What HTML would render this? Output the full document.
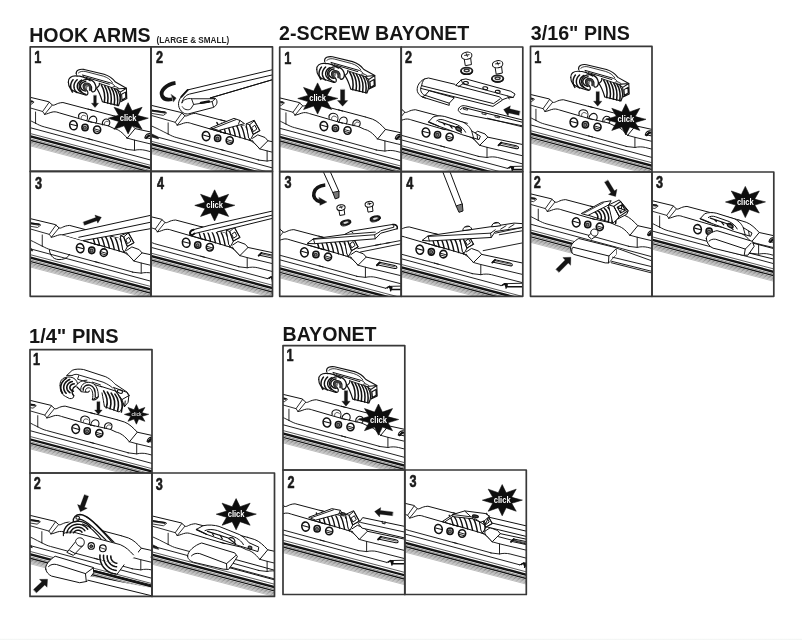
<!DOCTYPE html>
<html><head><meta charset="utf-8"><title>Wiper blade installation</title>
<style>
html,body{margin:0;padding:0;background:#fff;}
body{width:802px;height:640px;overflow:hidden;position:relative;font-family:"Liberation Sans",sans-serif;}
svg{position:absolute;left:0;top:0;display:block;filter:blur(0.55px)}
.ttl{font-family:"Liberation Sans",sans-serif;font-weight:bold;font-size:19.4px;fill:#161616}
.sub{font-family:"Liberation Sans",sans-serif;font-weight:bold;font-size:8.4px;fill:#222}
.num{font-family:"Liberation Sans",sans-serif;font-weight:bold;font-size:16.2px;fill:#1a1a1a;stroke:#1a1a1a;stroke-width:0.6px}
.clk{font-family:"Liberation Sans",sans-serif;font-weight:bold}
.foot{position:absolute;left:0;top:638px;width:802px;height:2px;background:linear-gradient(#fff 0,#fbfcfb 45%,#f4f6f5 70%,#f2f4f3 100%)}
</style></head><body>
<svg width="802" height="640" viewBox="0 0 802 640" stroke-linecap="round" stroke-linejoin="round">
<defs>
<clipPath id="cH1"><rect x="30.20" y="46.80" width="120.80" height="124.60"/></clipPath>
<clipPath id="cH2"><rect x="151.00" y="46.80" width="121.50" height="124.60"/></clipPath>
<clipPath id="cH3"><rect x="30.20" y="171.40" width="120.80" height="124.90"/></clipPath>
<clipPath id="cH4"><rect x="151.00" y="171.40" width="121.50" height="124.90"/></clipPath>
<clipPath id="cS1"><rect x="279.70" y="47.00" width="121.50" height="124.60"/></clipPath>
<clipPath id="cS2"><rect x="401.20" y="47.00" width="121.60" height="124.60"/></clipPath>
<clipPath id="cS3"><rect x="279.70" y="171.60" width="121.50" height="124.70"/></clipPath>
<clipPath id="cS4"><rect x="401.20" y="171.60" width="121.60" height="124.70"/></clipPath>
<clipPath id="cP1"><rect x="530.50" y="46.40" width="121.50" height="125.60"/></clipPath>
<clipPath id="cP2"><rect x="530.50" y="172.00" width="121.50" height="124.30"/></clipPath>
<clipPath id="cP3"><rect x="652.00" y="172.00" width="121.80" height="124.30"/></clipPath>
<clipPath id="cQ1"><rect x="30.00" y="349.60" width="122.00" height="123.40"/></clipPath>
<clipPath id="cQ2"><rect x="30.00" y="473.00" width="122.00" height="123.40"/></clipPath>
<clipPath id="cQ3"><rect x="152.00" y="473.00" width="122.50" height="123.40"/></clipPath>
<clipPath id="cB1"><rect x="283.00" y="345.60" width="121.80" height="124.40"/></clipPath>
<clipPath id="cB2"><rect x="283.00" y="470.00" width="121.80" height="124.50"/></clipPath>
<clipPath id="cB3"><rect x="404.80" y="470.00" width="121.50" height="124.50"/></clipPath>
</defs>
<g clip-path="url(#cH1)"><g transform="translate(0.00 0.00)"><path d="M 15.00 93.68 L 48.71 101.72 L 52.37 104.97 C 54.40 106.19 56.43 102.77 62.93 102.53 L 92.18 110.25" fill="none" stroke="#111" stroke-width="1.0" /><path d="M 88.00 109.03 L 114.81 116.10" fill="none" stroke="#111" stroke-width="1.0" /><path d="M 15.00 103.59 L 42.62 111.47 L 44.65 114.31 M 42.62 111.47 L 49.28 102.12 M 44.65 114.31 L 52.21 105.13" fill="none" stroke="#111" stroke-width="0.89" /><path d="M 15.00 98.71 L 32.47 101.31 L 34.09 102.12 L 30.84 104.56 L 15.00 101.96 M 15.00 99.69 L 32.06 102.29" fill="none" stroke="#111" stroke-width="0.83" /><path d="M 15.00 98.87 L 32.47 101.39" fill="none" stroke="#111" stroke-width="1.42" /><path d="M 44.65 114.31 C 47.50 114.15 49.93 112.36 53.18 111.87 C 56.03 111.55 57.65 112.36 59.28 112.85 L 92.18 122.43" fill="none" stroke="#111" stroke-width="1.0" /><path d="M 88.00 121.21 L 108.31 125.84 L 114.00 128.52 C 118.06 129.34 122.52 132.18 127.16 138.27" fill="none" stroke="#111" stroke-width="1.0" /><path d="M 35.55 112.03 L 35.55 123.24 M 35.55 123.24 C 32.87 122.03 29.62 120.16 26.78 118.78 L 15.00 113.33" fill="none" stroke="#111" stroke-width="0.89" /><path d="M 15.00 121.21 L 24.75 125.84 L 25.97 128.12 L 15.00 124.87 Z" fill="#333" stroke="#111" stroke-width="0.71" /><path d="M 35.55 123.22 C 38.56 124.84 41.00 126.06 44.25 126.87 L 92.18 139.87" fill="none" stroke="#111" stroke-width="0.94" /><path d="M 88.00 138.65 L 126.18 149.21" fill="none" stroke="#111" stroke-width="0.94" /><path d="M 15.00 123.62 L 154.81 161.15" fill="none" stroke="#111" stroke-width="0.94" /><path d="M 127.20 138.09 L 134.51 140.12 L 184.06 151.90" fill="none" stroke="#111" stroke-width="0.94" /><path d="M 134.51 140.12 L 134.51 150.28" fill="none" stroke="#111" stroke-width="0.94" /><path d="M 125.57 149.22 L 134.51 150.28 C 137.76 149.46 141.82 149.46 145.07 150.28 L 184.06 160.27" fill="none" stroke="#111" stroke-width="0.94" /><path d="M 145.88 138.09 L 148.72 135.25 L 163.75 138.50 C 167.00 139.31 166.60 141.91 163.75 141.42 L 147.10 137.85" fill="none" stroke="#111" stroke-width="1.06" /><path d="M 146.04 138.17 L 148.81 135.41" fill="none" stroke="#111" stroke-width="1.89" /><path d="M 149.13 136.47 L 164.16 139.80" fill="none" stroke="#111" stroke-width="0.71" /><path d="M 154.82 161.16 L 158.47 159.29 L 184.06 158.64" fill="none" stroke="#111" stroke-width="0.94" /><path d="M 156.44 160.75 C 157.66 159.13 159.69 159.13 160.91 160.35 L 159.69 163.60 M 159.69 162.38 L 184.06 162.38 M 158.47 159.29 L 159.69 162.38" fill="none" stroke="#111" stroke-width="1.53" /><path d="M15.00 129.50 L186.00 174.64" stroke="#141414" stroke-width="0.7" fill="none"/><path d="M15.00 132.40 L186.00 177.54" stroke="#141414" stroke-width="2.4" fill="none"/><path d="M15.00 134.80 L186.00 179.94" stroke="#333" stroke-width="0.6" fill="none"/><path d="M15.00 136.30 L186.00 181.44" stroke="#141414" stroke-width="1.4" fill="none"/><path d="M15.00 138.00 L186.00 183.14" stroke="#333" stroke-width="0.6" fill="none"/><path d="M15.00 139.30 L186.00 184.44" stroke="#444" stroke-width="0.55" fill="none"/><path d="M15.00 140.60 L186.00 185.74" stroke="#555" stroke-width="0.5" fill="none"/><path d="M15.00 141.80 L186.00 186.94" stroke="#666" stroke-width="0.45" fill="none"/></g><g transform="translate(0.00 0.00)"><ellipse cx="73.49" cy="125.28" rx="3.74" ry="4.55" fill="none" stroke="#111" stroke-width="1.59" transform="rotate(-12 73.49 125.28)"/><path d="M 70.65 124.22 L 76.74 125.84" fill="none" stroke="#111" stroke-width="1.06" /><ellipse cx="85.03" cy="127.47" rx="3.09" ry="3.25" fill="#ddd" stroke="#111" stroke-width="1.59"/><ellipse cx="84.86" cy="127.71" rx="1.46" ry="1.46" fill="#888" stroke="#333" stroke-width="1.18"/><ellipse cx="97.10" cy="129.74" rx="3.57" ry="3.74" fill="none" stroke="#111" stroke-width="1.59"/><path d="M 94.09 128.77 L 100.19 130.56 M 94.50 130.72 L 99.37 132.02" fill="none" stroke="#111" stroke-width="0.94" /></g><g transform="translate(0.00 0.00)"><path d="M 114.81 116.10 L 122.12 118.37 C 126.99 120.16 131.05 124.22 135.12 128.61 L 169.23 136.08" fill="none" stroke="#111" stroke-width="1.0" /><path d="M 127.16 138.27 L 135.12 128.61" fill="none" stroke="#111" stroke-width="1.0" /><path d="M 144.86 137.87 C 145.27 134.62 148.11 132.99 150.96 133.81 M 146.90 138.27 C 147.30 136.24 148.93 135.27 150.96 135.59" fill="none" stroke="#111" stroke-width="1.18" /></g><g transform="translate(0.00 0.00)"><path d="M 78.77 117.56 C 77.55 113.50 81.61 111.47 85.27 113.09 C 87.71 114.31 88.11 117.56 86.90 120.40" fill="none" stroke="#111" stroke-width="1.06" /><path d="M 81.21 118.37 C 80.80 115.12 84.05 114.31 86.08 116.34" fill="none" stroke="#111" stroke-width="0.71" /><path d="M 88.41 121.62 C 88.81 117.15 92.87 114.71 95.72 117.15 C 97.34 118.78 96.94 121.62 95.72 123.08" fill="none" stroke="#111" stroke-width="1.06" /><path d="M 102.62 124.87 C 101.40 120.81 105.06 117.96 108.31 119.59 C 110.75 121.21 109.93 124.46 108.31 125.84" fill="none" stroke="#111" stroke-width="1.06" /><path d="M 104.25 124.71 C 103.84 122.03 106.28 120.40 108.31 121.62" fill="none" stroke="#111" stroke-width="0.71" /></g><g transform="translate(0.00 0.00)"><path d="M 68.36 82.07 C 67.93 77.71 71.85 75.09 76.22 73.34 C 76.22 69.85 79.71 68.81 84.07 69.42 L 104.14 74.22 C 109.38 75.96 112.87 78.58 115.48 82.07 L 126.39 88.18 L 126.83 98.65 L 120.72 101.70 L 118.54 105.63 L 102.39 101.70 L 100.65 90.80 L 92.80 88.18 L 87.56 94.72 L 76.22 92.10 C 71.85 90.80 68.36 87.31 68.36 82.07 Z" fill="#fff" stroke="none" stroke-width="0.0" /><path d="M 76.22 73.78 C 75.78 70.03 79.71 68.81 84.07 69.42 L 104.14 74.22 C 109.38 75.96 112.87 78.58 115.48 82.07 L 126.39 88.18" fill="none" stroke="#111" stroke-width="1.12" /><path d="M 78.40 72.91 C 80.14 71.16 83.20 70.99 85.82 71.60 L 103.27 76.14 C 107.63 77.53 110.25 79.45 112.43 82.51" fill="none" stroke="#111" stroke-width="0.83" /><path d="M 82.76 75.09 L 111.12 83.12 C 112.87 83.82 114.17 84.86 114.61 86.00 M 85.82 77.27 L 109.38 84.25" fill="none" stroke="#111" stroke-width="1.0" /><path d="M 76.22 73.78 L 77.09 76.40 M 82.76 75.09 L 84.51 77.71" fill="none" stroke="#111" stroke-width="0.83" /><path d="M 68.36 82.07 C 67.93 78.14 71.42 75.79 75.78 75.96 C 81.45 75.96 86.69 78.14 90.18 80.76" fill="none" stroke="#111" stroke-width="1.18" /><path d="M 68.36 82.07 C 68.36 87.31 71.85 90.80 76.22 92.10 L 85.38 94.98 C 88.00 95.60 88.87 92.54 86.86 90.62" fill="none" stroke="#111" stroke-width="1.18" /><path d="M 72.49 92.07 L 71.90 91.10 L 71.41 90.09 L 71.04 89.04 L 70.79 87.99 L 70.65 86.90 L 70.64 85.82 L 70.75 84.75 L 70.98 83.68 L 71.33 82.64 L 71.79 81.62 L 72.36 80.64 L 73.05 79.70" fill="none" stroke="#111" stroke-width="1.47" /><path d="M 76.89 92.56 L 76.00 91.62 L 75.25 90.60 L 74.67 89.53 L 74.25 88.40 L 74.01 87.25 L 73.95 86.08 L 74.06 84.92 L 74.36 83.78 L 74.82 82.66 L 75.46 81.61 L 76.24 80.61 L 77.18 79.70" fill="none" stroke="#111" stroke-width="1.47" /><path d="M 81.21 92.17 L 80.04 91.42 L 79.04 90.52 L 78.25 89.50 L 77.68 88.40 L 77.35 87.25 L 77.26 86.07 L 77.43 84.89 L 77.84 83.75 L 78.49 82.68 L 79.34 81.70 L 80.40 80.85 L 81.61 80.14" fill="none" stroke="#111" stroke-width="1.47" /><path d="M 85.45 90.95 L 84.08 90.63 L 82.84 90.06 L 81.80 89.29 L 81.02 88.34 L 80.55 87.29 L 80.40 86.17 L 80.60 85.06 L 81.12 84.02 L 81.94 83.10 L 83.01 82.36 L 84.27 81.83 L 85.67 81.54" fill="none" stroke="#111" stroke-width="1.47" /><path d="M 86.86 90.62 C 82.76 89.92 81.89 84.69 85.38 83.38 C 89.31 82.24 92.36 85.56 91.49 89.92 C 91.23 91.67 92.80 92.54 94.54 91.23 C 97.60 88.18 95.41 80.76 89.31 79.45 C 82.76 78.58 78.40 82.51 79.27 87.31 C 79.71 90.80 82.76 93.41 85.82 94.46" fill="none" stroke="#111" stroke-width="1.3" /><path d="M 85.82 89.75 C 83.37 88.18 83.90 84.51 86.51 84.25 C 89.48 84.25 90.61 86.87 90.00 89.75" fill="none" stroke="#3a3a3a" stroke-width="2.36" /><path d="M 86.51 88.18 C 85.82 87.31 86.16 86.26 87.21 86.43" fill="none" stroke="#777" stroke-width="1.65" /><path d="M 96.46 88.18 C 98.90 86.43 99.78 84.86 99.34 83.38 M 96.46 88.18 C 98.47 90.80 100.65 96.03 102.39 101.70 L 118.54 105.63 C 120.72 101.27 120.28 95.16 117.66 90.36" fill="none" stroke="#111" stroke-width="1.18" /><path d="M 99.34 83.38 L 116.36 89.05" fill="none" stroke="#111" stroke-width="0.94" /><path d="M 101.35 84.86 C 104.31 89.92 105.19 96.90 104.31 102.31" fill="none" stroke="#111" stroke-width="1.53" /><path d="M 104.66 85.82 C 107.63 90.71 108.50 97.43 107.63 103.10" fill="none" stroke="#111" stroke-width="1.53" /><path d="M 107.98 86.78 C 110.95 91.49 111.82 97.95 110.95 103.88" fill="none" stroke="#111" stroke-width="1.53" /><path d="M 111.29 87.74 C 114.26 92.28 115.13 98.47 114.26 104.67" fill="none" stroke="#111" stroke-width="1.53" /><path d="M 114.44 88.70 C 117.40 93.06 118.28 99.00 117.40 105.46" fill="none" stroke="#111" stroke-width="1.53" /><path d="M 116.36 89.05 L 126.39 88.18 L 126.83 98.65 L 120.72 101.70 L 120.28 92.10 Z M 120.28 92.10 L 126.39 88.18 M 121.59 94.29 L 125.52 92.10 L 125.78 97.78 L 122.03 99.96 Z" fill="none" stroke="#111" stroke-width="1.06" /><path d="M 112.87 86.87 C 114.17 86.00 116.36 86.43 118.54 88.18" fill="none" stroke="#111" stroke-width="0.83" /></g><polygon points="93.65,95.60 93.65,103.20 91.40,103.20 95.00,107.60 98.60,103.20 96.35,103.20 96.35,95.60" fill="#151515" stroke="#151515" stroke-width="0.3"/><polygon points="147.91,118.30 137.60,121.40 142.11,129.33 132.04,125.78 128.10,133.90 124.16,125.78 114.09,129.33 118.60,121.40 108.29,118.30 118.60,115.20 114.09,107.27 124.16,110.82 128.10,102.70 132.04,110.82 142.11,107.27 137.60,115.20" fill="#0e0e0e" stroke="#0e0e0e" stroke-width="0.6"/><text x="128.10" y="121.20" text-anchor="middle" class="clk" fill="#fff" font-size="9.5" textLength="16.8" lengthAdjust="spacingAndGlyphs">click</text></g>
<g clip-path="url(#cS1)"><g transform="translate(250.40 0.80)"><path d="M 15.00 93.68 L 48.71 101.72 L 52.37 104.97 C 54.40 106.19 56.43 102.77 62.93 102.53 L 92.18 110.25" fill="none" stroke="#111" stroke-width="1.0" /><path d="M 88.00 109.03 L 114.81 116.10" fill="none" stroke="#111" stroke-width="1.0" /><path d="M 15.00 103.59 L 42.62 111.47 L 44.65 114.31 M 42.62 111.47 L 49.28 102.12 M 44.65 114.31 L 52.21 105.13" fill="none" stroke="#111" stroke-width="0.89" /><path d="M 15.00 98.71 L 32.47 101.31 L 34.09 102.12 L 30.84 104.56 L 15.00 101.96 M 15.00 99.69 L 32.06 102.29" fill="none" stroke="#111" stroke-width="0.83" /><path d="M 15.00 98.87 L 32.47 101.39" fill="none" stroke="#111" stroke-width="1.42" /><path d="M 44.65 114.31 C 47.50 114.15 49.93 112.36 53.18 111.87 C 56.03 111.55 57.65 112.36 59.28 112.85 L 92.18 122.43" fill="none" stroke="#111" stroke-width="1.0" /><path d="M 88.00 121.21 L 108.31 125.84 L 114.00 128.52 C 118.06 129.34 122.52 132.18 127.16 138.27" fill="none" stroke="#111" stroke-width="1.0" /><path d="M 35.55 112.03 L 35.55 123.24 M 35.55 123.24 C 32.87 122.03 29.62 120.16 26.78 118.78 L 15.00 113.33" fill="none" stroke="#111" stroke-width="0.89" /><path d="M 15.00 121.21 L 24.75 125.84 L 25.97 128.12 L 15.00 124.87 Z" fill="#333" stroke="#111" stroke-width="0.71" /><path d="M 35.55 123.22 C 38.56 124.84 41.00 126.06 44.25 126.87 L 92.18 139.87" fill="none" stroke="#111" stroke-width="0.94" /><path d="M 88.00 138.65 L 126.18 149.21" fill="none" stroke="#111" stroke-width="0.94" /><path d="M 15.00 123.62 L 154.81 161.15" fill="none" stroke="#111" stroke-width="0.94" /><path d="M 127.20 138.09 L 134.51 140.12 L 184.06 151.90" fill="none" stroke="#111" stroke-width="0.94" /><path d="M 134.51 140.12 L 134.51 150.28" fill="none" stroke="#111" stroke-width="0.94" /><path d="M 125.57 149.22 L 134.51 150.28 C 137.76 149.46 141.82 149.46 145.07 150.28 L 184.06 160.27" fill="none" stroke="#111" stroke-width="0.94" /><path d="M 145.88 138.09 L 148.72 135.25 L 163.75 138.50 C 167.00 139.31 166.60 141.91 163.75 141.42 L 147.10 137.85" fill="none" stroke="#111" stroke-width="1.06" /><path d="M 146.04 138.17 L 148.81 135.41" fill="none" stroke="#111" stroke-width="1.89" /><path d="M 149.13 136.47 L 164.16 139.80" fill="none" stroke="#111" stroke-width="0.71" /><path d="M 154.82 161.16 L 158.47 159.29 L 184.06 158.64" fill="none" stroke="#111" stroke-width="0.94" /><path d="M 156.44 160.75 C 157.66 159.13 159.69 159.13 160.91 160.35 L 159.69 163.60 M 159.69 162.38 L 184.06 162.38 M 158.47 159.29 L 159.69 162.38" fill="none" stroke="#111" stroke-width="1.53" /><path d="M15.00 129.50 L186.00 174.64" stroke="#141414" stroke-width="0.7" fill="none"/><path d="M15.00 132.40 L186.00 177.54" stroke="#141414" stroke-width="2.4" fill="none"/><path d="M15.00 134.80 L186.00 179.94" stroke="#333" stroke-width="0.6" fill="none"/><path d="M15.00 136.30 L186.00 181.44" stroke="#141414" stroke-width="1.4" fill="none"/><path d="M15.00 138.00 L186.00 183.14" stroke="#333" stroke-width="0.6" fill="none"/><path d="M15.00 139.30 L186.00 184.44" stroke="#444" stroke-width="0.55" fill="none"/><path d="M15.00 140.60 L186.00 185.74" stroke="#555" stroke-width="0.5" fill="none"/><path d="M15.00 141.80 L186.00 186.94" stroke="#666" stroke-width="0.45" fill="none"/></g><g transform="translate(250.40 0.80)"><ellipse cx="73.49" cy="125.28" rx="3.74" ry="4.55" fill="none" stroke="#111" stroke-width="1.59" transform="rotate(-12 73.49 125.28)"/><path d="M 70.65 124.22 L 76.74 125.84" fill="none" stroke="#111" stroke-width="1.06" /><ellipse cx="85.03" cy="127.47" rx="3.09" ry="3.25" fill="#ddd" stroke="#111" stroke-width="1.59"/><ellipse cx="84.86" cy="127.71" rx="1.46" ry="1.46" fill="#888" stroke="#333" stroke-width="1.18"/><ellipse cx="97.10" cy="129.74" rx="3.57" ry="3.74" fill="none" stroke="#111" stroke-width="1.59"/><path d="M 94.09 128.77 L 100.19 130.56 M 94.50 130.72 L 99.37 132.02" fill="none" stroke="#111" stroke-width="0.94" /></g><g transform="translate(250.40 0.80)"><path d="M 114.81 116.10 L 122.12 118.37 C 126.99 120.16 131.05 124.22 135.12 128.61 L 169.23 136.08" fill="none" stroke="#111" stroke-width="1.0" /><path d="M 127.16 138.27 L 135.12 128.61" fill="none" stroke="#111" stroke-width="1.0" /><path d="M 144.86 137.87 C 145.27 134.62 148.11 132.99 150.96 133.81 M 146.90 138.27 C 147.30 136.24 148.93 135.27 150.96 135.59" fill="none" stroke="#111" stroke-width="1.18" /></g><g transform="translate(250.40 0.80)"><path d="M 78.77 117.56 C 77.55 113.50 81.61 111.47 85.27 113.09 C 87.71 114.31 88.11 117.56 86.90 120.40" fill="none" stroke="#111" stroke-width="1.06" /><path d="M 81.21 118.37 C 80.80 115.12 84.05 114.31 86.08 116.34" fill="none" stroke="#111" stroke-width="0.71" /><path d="M 88.41 121.62 C 88.81 117.15 92.87 114.71 95.72 117.15 C 97.34 118.78 96.94 121.62 95.72 123.08" fill="none" stroke="#111" stroke-width="1.06" /><path d="M 102.62 124.87 C 101.40 120.81 105.06 117.96 108.31 119.59 C 110.75 121.21 109.93 124.46 108.31 125.84" fill="none" stroke="#111" stroke-width="1.06" /><path d="M 104.25 124.71 C 103.84 122.03 106.28 120.40 108.31 121.62" fill="none" stroke="#111" stroke-width="0.71" /></g><g transform="translate(248.40 -12.60)"><path d="M 68.36 82.07 C 67.93 77.71 71.85 75.09 76.22 73.34 C 76.22 69.85 79.71 68.81 84.07 69.42 L 104.14 74.22 C 109.38 75.96 112.87 78.58 115.48 82.07 L 126.39 88.18 L 126.83 98.65 L 120.72 101.70 L 118.54 105.63 L 102.39 101.70 L 100.65 90.80 L 92.80 88.18 L 87.56 94.72 L 76.22 92.10 C 71.85 90.80 68.36 87.31 68.36 82.07 Z" fill="#fff" stroke="none" stroke-width="0.0" /><path d="M 76.22 73.78 C 75.78 70.03 79.71 68.81 84.07 69.42 L 104.14 74.22 C 109.38 75.96 112.87 78.58 115.48 82.07 L 126.39 88.18" fill="none" stroke="#111" stroke-width="1.12" /><path d="M 78.40 72.91 C 80.14 71.16 83.20 70.99 85.82 71.60 L 103.27 76.14 C 107.63 77.53 110.25 79.45 112.43 82.51" fill="none" stroke="#111" stroke-width="0.83" /><path d="M 82.76 75.09 L 111.12 83.12 C 112.87 83.82 114.17 84.86 114.61 86.00 M 85.82 77.27 L 109.38 84.25" fill="none" stroke="#111" stroke-width="1.0" /><path d="M 76.22 73.78 L 77.09 76.40 M 82.76 75.09 L 84.51 77.71" fill="none" stroke="#111" stroke-width="0.83" /><path d="M 68.36 82.07 C 67.93 78.14 71.42 75.79 75.78 75.96 C 81.45 75.96 86.69 78.14 90.18 80.76" fill="none" stroke="#111" stroke-width="1.18" /><path d="M 68.36 82.07 C 68.36 87.31 71.85 90.80 76.22 92.10 L 85.38 94.98 C 88.00 95.60 88.87 92.54 86.86 90.62" fill="none" stroke="#111" stroke-width="1.18" /><path d="M 72.49 92.07 L 71.90 91.10 L 71.41 90.09 L 71.04 89.04 L 70.79 87.99 L 70.65 86.90 L 70.64 85.82 L 70.75 84.75 L 70.98 83.68 L 71.33 82.64 L 71.79 81.62 L 72.36 80.64 L 73.05 79.70" fill="none" stroke="#111" stroke-width="1.47" /><path d="M 76.89 92.56 L 76.00 91.62 L 75.25 90.60 L 74.67 89.53 L 74.25 88.40 L 74.01 87.25 L 73.95 86.08 L 74.06 84.92 L 74.36 83.78 L 74.82 82.66 L 75.46 81.61 L 76.24 80.61 L 77.18 79.70" fill="none" stroke="#111" stroke-width="1.47" /><path d="M 81.21 92.17 L 80.04 91.42 L 79.04 90.52 L 78.25 89.50 L 77.68 88.40 L 77.35 87.25 L 77.26 86.07 L 77.43 84.89 L 77.84 83.75 L 78.49 82.68 L 79.34 81.70 L 80.40 80.85 L 81.61 80.14" fill="none" stroke="#111" stroke-width="1.47" /><path d="M 85.45 90.95 L 84.08 90.63 L 82.84 90.06 L 81.80 89.29 L 81.02 88.34 L 80.55 87.29 L 80.40 86.17 L 80.60 85.06 L 81.12 84.02 L 81.94 83.10 L 83.01 82.36 L 84.27 81.83 L 85.67 81.54" fill="none" stroke="#111" stroke-width="1.47" /><path d="M 86.86 90.62 C 82.76 89.92 81.89 84.69 85.38 83.38 C 89.31 82.24 92.36 85.56 91.49 89.92 C 91.23 91.67 92.80 92.54 94.54 91.23 C 97.60 88.18 95.41 80.76 89.31 79.45 C 82.76 78.58 78.40 82.51 79.27 87.31 C 79.71 90.80 82.76 93.41 85.82 94.46" fill="none" stroke="#111" stroke-width="1.3" /><path d="M 85.82 89.75 C 83.37 88.18 83.90 84.51 86.51 84.25 C 89.48 84.25 90.61 86.87 90.00 89.75" fill="none" stroke="#3a3a3a" stroke-width="2.36" /><path d="M 86.51 88.18 C 85.82 87.31 86.16 86.26 87.21 86.43" fill="none" stroke="#777" stroke-width="1.65" /><path d="M 96.46 88.18 C 98.90 86.43 99.78 84.86 99.34 83.38 M 96.46 88.18 C 98.47 90.80 100.65 96.03 102.39 101.70 L 118.54 105.63 C 120.72 101.27 120.28 95.16 117.66 90.36" fill="none" stroke="#111" stroke-width="1.18" /><path d="M 99.34 83.38 L 116.36 89.05" fill="none" stroke="#111" stroke-width="0.94" /><path d="M 101.35 84.86 C 104.31 89.92 105.19 96.90 104.31 102.31" fill="none" stroke="#111" stroke-width="1.53" /><path d="M 104.66 85.82 C 107.63 90.71 108.50 97.43 107.63 103.10" fill="none" stroke="#111" stroke-width="1.53" /><path d="M 107.98 86.78 C 110.95 91.49 111.82 97.95 110.95 103.88" fill="none" stroke="#111" stroke-width="1.53" /><path d="M 111.29 87.74 C 114.26 92.28 115.13 98.47 114.26 104.67" fill="none" stroke="#111" stroke-width="1.53" /><path d="M 114.44 88.70 C 117.40 93.06 118.28 99.00 117.40 105.46" fill="none" stroke="#111" stroke-width="1.53" /><path d="M 116.36 89.05 L 126.39 88.18 L 126.83 98.65 L 120.72 101.70 L 120.28 92.10 Z M 120.28 92.10 L 126.39 88.18 M 121.59 94.29 L 125.52 92.10 L 125.78 97.78 L 122.03 99.96 Z" fill="none" stroke="#111" stroke-width="1.06" /><path d="M 112.87 86.87 C 114.17 86.00 116.36 86.43 118.54 88.18" fill="none" stroke="#111" stroke-width="0.83" /></g><polygon points="340.50,89.70 340.50,100.60 337.40,100.60 342.60,106.20 347.80,100.60 344.70,100.60 344.70,89.70" fill="#151515" stroke="#151515" stroke-width="0.3"/><polygon points="337.41,98.50 327.10,101.60 331.61,109.53 321.54,105.98 317.60,114.10 313.66,105.98 303.59,109.53 308.10,101.60 297.79,98.50 308.10,95.40 303.59,87.47 313.66,91.02 317.60,82.90 321.54,91.02 331.61,87.47 327.10,95.40" fill="#0e0e0e" stroke="#0e0e0e" stroke-width="0.6"/><text x="317.60" y="101.40" text-anchor="middle" class="clk" fill="#fff" font-size="9.5" textLength="16.8" lengthAdjust="spacingAndGlyphs">click</text></g>
<g clip-path="url(#cP1)"><g transform="translate(500.40 -2.80)"><path d="M 15.00 93.68 L 48.71 101.72 L 52.37 104.97 C 54.40 106.19 56.43 102.77 62.93 102.53 L 92.18 110.25" fill="none" stroke="#111" stroke-width="1.0" /><path d="M 88.00 109.03 L 114.81 116.10" fill="none" stroke="#111" stroke-width="1.0" /><path d="M 15.00 103.59 L 42.62 111.47 L 44.65 114.31 M 42.62 111.47 L 49.28 102.12 M 44.65 114.31 L 52.21 105.13" fill="none" stroke="#111" stroke-width="0.89" /><path d="M 15.00 98.71 L 32.47 101.31 L 34.09 102.12 L 30.84 104.56 L 15.00 101.96 M 15.00 99.69 L 32.06 102.29" fill="none" stroke="#111" stroke-width="0.83" /><path d="M 15.00 98.87 L 32.47 101.39" fill="none" stroke="#111" stroke-width="1.42" /><path d="M 44.65 114.31 C 47.50 114.15 49.93 112.36 53.18 111.87 C 56.03 111.55 57.65 112.36 59.28 112.85 L 92.18 122.43" fill="none" stroke="#111" stroke-width="1.0" /><path d="M 88.00 121.21 L 108.31 125.84 L 114.00 128.52 C 118.06 129.34 122.52 132.18 127.16 138.27" fill="none" stroke="#111" stroke-width="1.0" /><path d="M 35.55 112.03 L 35.55 123.24 M 35.55 123.24 C 32.87 122.03 29.62 120.16 26.78 118.78 L 15.00 113.33" fill="none" stroke="#111" stroke-width="0.89" /><path d="M 15.00 121.21 L 24.75 125.84 L 25.97 128.12 L 15.00 124.87 Z" fill="#333" stroke="#111" stroke-width="0.71" /><path d="M 35.55 123.22 C 38.56 124.84 41.00 126.06 44.25 126.87 L 92.18 139.87" fill="none" stroke="#111" stroke-width="0.94" /><path d="M 88.00 138.65 L 126.18 149.21" fill="none" stroke="#111" stroke-width="0.94" /><path d="M 15.00 123.62 L 154.81 161.15" fill="none" stroke="#111" stroke-width="0.94" /><path d="M 127.20 138.09 L 134.51 140.12 L 184.06 151.90" fill="none" stroke="#111" stroke-width="0.94" /><path d="M 134.51 140.12 L 134.51 150.28" fill="none" stroke="#111" stroke-width="0.94" /><path d="M 125.57 149.22 L 134.51 150.28 C 137.76 149.46 141.82 149.46 145.07 150.28 L 184.06 160.27" fill="none" stroke="#111" stroke-width="0.94" /><path d="M 145.88 138.09 L 148.72 135.25 L 163.75 138.50 C 167.00 139.31 166.60 141.91 163.75 141.42 L 147.10 137.85" fill="none" stroke="#111" stroke-width="1.06" /><path d="M 146.04 138.17 L 148.81 135.41" fill="none" stroke="#111" stroke-width="1.89" /><path d="M 149.13 136.47 L 164.16 139.80" fill="none" stroke="#111" stroke-width="0.71" /><path d="M 154.82 161.16 L 158.47 159.29 L 184.06 158.64" fill="none" stroke="#111" stroke-width="0.94" /><path d="M 156.44 160.75 C 157.66 159.13 159.69 159.13 160.91 160.35 L 159.69 163.60 M 159.69 162.38 L 184.06 162.38 M 158.47 159.29 L 159.69 162.38" fill="none" stroke="#111" stroke-width="1.53" /><path d="M15.00 129.50 L186.00 174.64" stroke="#141414" stroke-width="0.7" fill="none"/><path d="M15.00 132.40 L186.00 177.54" stroke="#141414" stroke-width="2.4" fill="none"/><path d="M15.00 134.80 L186.00 179.94" stroke="#333" stroke-width="0.6" fill="none"/><path d="M15.00 136.30 L186.00 181.44" stroke="#141414" stroke-width="1.4" fill="none"/><path d="M15.00 138.00 L186.00 183.14" stroke="#333" stroke-width="0.6" fill="none"/><path d="M15.00 139.30 L186.00 184.44" stroke="#444" stroke-width="0.55" fill="none"/><path d="M15.00 140.60 L186.00 185.74" stroke="#555" stroke-width="0.5" fill="none"/><path d="M15.00 141.80 L186.00 186.94" stroke="#666" stroke-width="0.45" fill="none"/></g><g transform="translate(500.40 -2.80)"><ellipse cx="73.49" cy="125.28" rx="3.74" ry="4.55" fill="none" stroke="#111" stroke-width="1.59" transform="rotate(-12 73.49 125.28)"/><path d="M 70.65 124.22 L 76.74 125.84" fill="none" stroke="#111" stroke-width="1.06" /><ellipse cx="85.03" cy="127.47" rx="3.09" ry="3.25" fill="#ddd" stroke="#111" stroke-width="1.59"/><ellipse cx="84.86" cy="127.71" rx="1.46" ry="1.46" fill="#888" stroke="#333" stroke-width="1.18"/><ellipse cx="97.10" cy="129.74" rx="3.57" ry="3.74" fill="none" stroke="#111" stroke-width="1.59"/><path d="M 94.09 128.77 L 100.19 130.56 M 94.50 130.72 L 99.37 132.02" fill="none" stroke="#111" stroke-width="0.94" /></g><g transform="translate(500.40 -2.80)"><path d="M 114.81 116.10 L 122.12 118.37 C 126.99 120.16 131.05 124.22 135.12 128.61 L 169.23 136.08" fill="none" stroke="#111" stroke-width="1.0" /><path d="M 127.16 138.27 L 135.12 128.61" fill="none" stroke="#111" stroke-width="1.0" /><path d="M 144.86 137.87 C 145.27 134.62 148.11 132.99 150.96 133.81 M 146.90 138.27 C 147.30 136.24 148.93 135.27 150.96 135.59" fill="none" stroke="#111" stroke-width="1.18" /></g><g transform="translate(500.40 -2.80)"><path d="M 78.77 117.56 C 77.55 113.50 81.61 111.47 85.27 113.09 C 87.71 114.31 88.11 117.56 86.90 120.40" fill="none" stroke="#111" stroke-width="1.06" /><path d="M 81.21 118.37 C 80.80 115.12 84.05 114.31 86.08 116.34" fill="none" stroke="#111" stroke-width="0.71" /><path d="M 88.41 121.62 C 88.81 117.15 92.87 114.71 95.72 117.15 C 97.34 118.78 96.94 121.62 95.72 123.08" fill="none" stroke="#111" stroke-width="1.06" /><path d="M 102.62 124.87 C 101.40 120.81 105.06 117.96 108.31 119.59 C 110.75 121.21 109.93 124.46 108.31 125.84" fill="none" stroke="#111" stroke-width="1.06" /><path d="M 104.25 124.71 C 103.84 122.03 106.28 120.40 108.31 121.62" fill="none" stroke="#111" stroke-width="0.71" /></g><g transform="translate(502.40 -4.70)"><path d="M 68.36 82.07 C 67.93 77.71 71.85 75.09 76.22 73.34 C 76.22 69.85 79.71 68.81 84.07 69.42 L 104.14 74.22 C 109.38 75.96 112.87 78.58 115.48 82.07 L 126.39 88.18 L 126.83 98.65 L 120.72 101.70 L 118.54 105.63 L 102.39 101.70 L 100.65 90.80 L 92.80 88.18 L 87.56 94.72 L 76.22 92.10 C 71.85 90.80 68.36 87.31 68.36 82.07 Z" fill="#fff" stroke="none" stroke-width="0.0" /><path d="M 76.22 73.78 C 75.78 70.03 79.71 68.81 84.07 69.42 L 104.14 74.22 C 109.38 75.96 112.87 78.58 115.48 82.07 L 126.39 88.18" fill="none" stroke="#111" stroke-width="1.12" /><path d="M 78.40 72.91 C 80.14 71.16 83.20 70.99 85.82 71.60 L 103.27 76.14 C 107.63 77.53 110.25 79.45 112.43 82.51" fill="none" stroke="#111" stroke-width="0.83" /><path d="M 82.76 75.09 L 111.12 83.12 C 112.87 83.82 114.17 84.86 114.61 86.00 M 85.82 77.27 L 109.38 84.25" fill="none" stroke="#111" stroke-width="1.0" /><path d="M 76.22 73.78 L 77.09 76.40 M 82.76 75.09 L 84.51 77.71" fill="none" stroke="#111" stroke-width="0.83" /><path d="M 68.36 82.07 C 67.93 78.14 71.42 75.79 75.78 75.96 C 81.45 75.96 86.69 78.14 90.18 80.76" fill="none" stroke="#111" stroke-width="1.18" /><path d="M 68.36 82.07 C 68.36 87.31 71.85 90.80 76.22 92.10 L 85.38 94.98 C 88.00 95.60 88.87 92.54 86.86 90.62" fill="none" stroke="#111" stroke-width="1.18" /><path d="M 72.49 92.07 L 71.90 91.10 L 71.41 90.09 L 71.04 89.04 L 70.79 87.99 L 70.65 86.90 L 70.64 85.82 L 70.75 84.75 L 70.98 83.68 L 71.33 82.64 L 71.79 81.62 L 72.36 80.64 L 73.05 79.70" fill="none" stroke="#111" stroke-width="1.47" /><path d="M 76.89 92.56 L 76.00 91.62 L 75.25 90.60 L 74.67 89.53 L 74.25 88.40 L 74.01 87.25 L 73.95 86.08 L 74.06 84.92 L 74.36 83.78 L 74.82 82.66 L 75.46 81.61 L 76.24 80.61 L 77.18 79.70" fill="none" stroke="#111" stroke-width="1.47" /><path d="M 81.21 92.17 L 80.04 91.42 L 79.04 90.52 L 78.25 89.50 L 77.68 88.40 L 77.35 87.25 L 77.26 86.07 L 77.43 84.89 L 77.84 83.75 L 78.49 82.68 L 79.34 81.70 L 80.40 80.85 L 81.61 80.14" fill="none" stroke="#111" stroke-width="1.47" /><path d="M 85.45 90.95 L 84.08 90.63 L 82.84 90.06 L 81.80 89.29 L 81.02 88.34 L 80.55 87.29 L 80.40 86.17 L 80.60 85.06 L 81.12 84.02 L 81.94 83.10 L 83.01 82.36 L 84.27 81.83 L 85.67 81.54" fill="none" stroke="#111" stroke-width="1.47" /><path d="M 86.86 90.62 C 82.76 89.92 81.89 84.69 85.38 83.38 C 89.31 82.24 92.36 85.56 91.49 89.92 C 91.23 91.67 92.80 92.54 94.54 91.23 C 97.60 88.18 95.41 80.76 89.31 79.45 C 82.76 78.58 78.40 82.51 79.27 87.31 C 79.71 90.80 82.76 93.41 85.82 94.46" fill="none" stroke="#111" stroke-width="1.3" /><path d="M 85.82 89.75 C 83.37 88.18 83.90 84.51 86.51 84.25 C 89.48 84.25 90.61 86.87 90.00 89.75" fill="none" stroke="#3a3a3a" stroke-width="2.36" /><path d="M 86.51 88.18 C 85.82 87.31 86.16 86.26 87.21 86.43" fill="none" stroke="#777" stroke-width="1.65" /><path d="M 96.46 88.18 C 98.90 86.43 99.78 84.86 99.34 83.38 M 96.46 88.18 C 98.47 90.80 100.65 96.03 102.39 101.70 L 118.54 105.63 C 120.72 101.27 120.28 95.16 117.66 90.36" fill="none" stroke="#111" stroke-width="1.18" /><path d="M 99.34 83.38 L 116.36 89.05" fill="none" stroke="#111" stroke-width="0.94" /><path d="M 101.35 84.86 C 104.31 89.92 105.19 96.90 104.31 102.31" fill="none" stroke="#111" stroke-width="1.53" /><path d="M 104.66 85.82 C 107.63 90.71 108.50 97.43 107.63 103.10" fill="none" stroke="#111" stroke-width="1.53" /><path d="M 107.98 86.78 C 110.95 91.49 111.82 97.95 110.95 103.88" fill="none" stroke="#111" stroke-width="1.53" /><path d="M 111.29 87.74 C 114.26 92.28 115.13 98.47 114.26 104.67" fill="none" stroke="#111" stroke-width="1.53" /><path d="M 114.44 88.70 C 117.40 93.06 118.28 99.00 117.40 105.46" fill="none" stroke="#111" stroke-width="1.53" /><path d="M 116.36 89.05 L 126.39 88.18 L 126.83 98.65 L 120.72 101.70 L 120.28 92.10 Z M 120.28 92.10 L 126.39 88.18 M 121.59 94.29 L 125.52 92.10 L 125.78 97.78 L 122.03 99.96 Z" fill="none" stroke="#111" stroke-width="1.06" /><path d="M 112.87 86.87 C 114.17 86.00 116.36 86.43 118.54 88.18" fill="none" stroke="#111" stroke-width="0.83" /></g><polygon points="596.10,91.80 596.10,101.20 593.50,101.20 597.70,106.20 601.90,101.20 599.30,101.20 599.30,91.80" fill="#151515" stroke="#151515" stroke-width="0.3"/><polygon points="645.61,119.40 635.30,122.50 639.81,130.43 629.74,126.88 625.80,135.00 621.86,126.88 611.79,130.43 616.30,122.50 605.99,119.40 616.30,116.30 611.79,108.37 621.86,111.92 625.80,103.80 629.74,111.92 639.81,108.37 635.30,116.30" fill="#0e0e0e" stroke="#0e0e0e" stroke-width="0.6"/><text x="625.80" y="122.30" text-anchor="middle" class="clk" fill="#fff" font-size="9.5" textLength="16.8" lengthAdjust="spacingAndGlyphs">click</text></g>
<g clip-path="url(#cB1)"><g transform="translate(253.40 297.20)"><path d="M 15.00 93.68 L 48.71 101.72 L 52.37 104.97 C 54.40 106.19 56.43 102.77 62.93 102.53 L 92.18 110.25" fill="none" stroke="#111" stroke-width="1.0" /><path d="M 88.00 109.03 L 114.81 116.10" fill="none" stroke="#111" stroke-width="1.0" /><path d="M 15.00 103.59 L 42.62 111.47 L 44.65 114.31 M 42.62 111.47 L 49.28 102.12 M 44.65 114.31 L 52.21 105.13" fill="none" stroke="#111" stroke-width="0.89" /><path d="M 15.00 98.71 L 32.47 101.31 L 34.09 102.12 L 30.84 104.56 L 15.00 101.96 M 15.00 99.69 L 32.06 102.29" fill="none" stroke="#111" stroke-width="0.83" /><path d="M 15.00 98.87 L 32.47 101.39" fill="none" stroke="#111" stroke-width="1.42" /><path d="M 44.65 114.31 C 47.50 114.15 49.93 112.36 53.18 111.87 C 56.03 111.55 57.65 112.36 59.28 112.85 L 92.18 122.43" fill="none" stroke="#111" stroke-width="1.0" /><path d="M 88.00 121.21 L 108.31 125.84 L 114.00 128.52 C 118.06 129.34 122.52 132.18 127.16 138.27" fill="none" stroke="#111" stroke-width="1.0" /><path d="M 35.55 112.03 L 35.55 123.24 M 35.55 123.24 C 32.87 122.03 29.62 120.16 26.78 118.78 L 15.00 113.33" fill="none" stroke="#111" stroke-width="0.89" /><path d="M 15.00 121.21 L 24.75 125.84 L 25.97 128.12 L 15.00 124.87 Z" fill="#333" stroke="#111" stroke-width="0.71" /><path d="M 35.55 123.22 C 38.56 124.84 41.00 126.06 44.25 126.87 L 92.18 139.87" fill="none" stroke="#111" stroke-width="0.94" /><path d="M 88.00 138.65 L 126.18 149.21" fill="none" stroke="#111" stroke-width="0.94" /><path d="M 15.00 123.62 L 154.81 161.15" fill="none" stroke="#111" stroke-width="0.94" /><path d="M 127.20 138.09 L 134.51 140.12 L 184.06 151.90" fill="none" stroke="#111" stroke-width="0.94" /><path d="M 134.51 140.12 L 134.51 150.28" fill="none" stroke="#111" stroke-width="0.94" /><path d="M 125.57 149.22 L 134.51 150.28 C 137.76 149.46 141.82 149.46 145.07 150.28 L 184.06 160.27" fill="none" stroke="#111" stroke-width="0.94" /><path d="M 145.88 138.09 L 148.72 135.25 L 163.75 138.50 C 167.00 139.31 166.60 141.91 163.75 141.42 L 147.10 137.85" fill="none" stroke="#111" stroke-width="1.06" /><path d="M 146.04 138.17 L 148.81 135.41" fill="none" stroke="#111" stroke-width="1.89" /><path d="M 149.13 136.47 L 164.16 139.80" fill="none" stroke="#111" stroke-width="0.71" /><path d="M 154.82 161.16 L 158.47 159.29 L 184.06 158.64" fill="none" stroke="#111" stroke-width="0.94" /><path d="M 156.44 160.75 C 157.66 159.13 159.69 159.13 160.91 160.35 L 159.69 163.60 M 159.69 162.38 L 184.06 162.38 M 158.47 159.29 L 159.69 162.38" fill="none" stroke="#111" stroke-width="1.53" /><path d="M15.00 129.50 L186.00 174.64" stroke="#141414" stroke-width="0.7" fill="none"/><path d="M15.00 132.40 L186.00 177.54" stroke="#141414" stroke-width="2.4" fill="none"/><path d="M15.00 134.80 L186.00 179.94" stroke="#333" stroke-width="0.6" fill="none"/><path d="M15.00 136.30 L186.00 181.44" stroke="#141414" stroke-width="1.4" fill="none"/><path d="M15.00 138.00 L186.00 183.14" stroke="#333" stroke-width="0.6" fill="none"/><path d="M15.00 139.30 L186.00 184.44" stroke="#444" stroke-width="0.55" fill="none"/><path d="M15.00 140.60 L186.00 185.74" stroke="#555" stroke-width="0.5" fill="none"/><path d="M15.00 141.80 L186.00 186.94" stroke="#666" stroke-width="0.45" fill="none"/></g><g transform="translate(253.40 297.20)"><ellipse cx="73.49" cy="125.28" rx="3.74" ry="4.55" fill="none" stroke="#111" stroke-width="1.59" transform="rotate(-12 73.49 125.28)"/><path d="M 70.65 124.22 L 76.74 125.84" fill="none" stroke="#111" stroke-width="1.06" /><ellipse cx="85.03" cy="127.47" rx="3.09" ry="3.25" fill="#ddd" stroke="#111" stroke-width="1.59"/><ellipse cx="84.86" cy="127.71" rx="1.46" ry="1.46" fill="#888" stroke="#333" stroke-width="1.18"/><ellipse cx="97.10" cy="129.74" rx="3.57" ry="3.74" fill="none" stroke="#111" stroke-width="1.59"/><path d="M 94.09 128.77 L 100.19 130.56 M 94.50 130.72 L 99.37 132.02" fill="none" stroke="#111" stroke-width="0.94" /></g><g transform="translate(253.40 297.20)"><path d="M 114.81 116.10 L 122.12 118.37 C 126.99 120.16 131.05 124.22 135.12 128.61 L 169.23 136.08" fill="none" stroke="#111" stroke-width="1.0" /><path d="M 127.16 138.27 L 135.12 128.61" fill="none" stroke="#111" stroke-width="1.0" /><path d="M 144.86 137.87 C 145.27 134.62 148.11 132.99 150.96 133.81 M 146.90 138.27 C 147.30 136.24 148.93 135.27 150.96 135.59" fill="none" stroke="#111" stroke-width="1.18" /></g><g transform="translate(253.40 297.20)"><path d="M 78.77 117.56 C 77.55 113.50 81.61 111.47 85.27 113.09 C 87.71 114.31 88.11 117.56 86.90 120.40" fill="none" stroke="#111" stroke-width="1.06" /><path d="M 81.21 118.37 C 80.80 115.12 84.05 114.31 86.08 116.34" fill="none" stroke="#111" stroke-width="0.71" /><path d="M 88.41 121.62 C 88.81 117.15 92.87 114.71 95.72 117.15 C 97.34 118.78 96.94 121.62 95.72 123.08" fill="none" stroke="#111" stroke-width="1.06" /><path d="M 102.62 124.87 C 101.40 120.81 105.06 117.96 108.31 119.59 C 110.75 121.21 109.93 124.46 108.31 125.84" fill="none" stroke="#111" stroke-width="1.06" /><path d="M 104.25 124.71 C 103.84 122.03 106.28 120.40 108.31 121.62" fill="none" stroke="#111" stroke-width="0.71" /></g><g transform="translate(250.40 297.40)"><path d="M 68.36 82.07 C 67.93 77.71 71.85 75.09 76.22 73.34 C 76.22 69.85 79.71 68.81 84.07 69.42 L 104.14 74.22 C 109.38 75.96 112.87 78.58 115.48 82.07 L 126.39 88.18 L 126.83 98.65 L 120.72 101.70 L 118.54 105.63 L 102.39 101.70 L 100.65 90.80 L 92.80 88.18 L 87.56 94.72 L 76.22 92.10 C 71.85 90.80 68.36 87.31 68.36 82.07 Z" fill="#fff" stroke="none" stroke-width="0.0" /><path d="M 76.22 73.78 C 75.78 70.03 79.71 68.81 84.07 69.42 L 104.14 74.22 C 109.38 75.96 112.87 78.58 115.48 82.07 L 126.39 88.18" fill="none" stroke="#111" stroke-width="1.12" /><path d="M 78.40 72.91 C 80.14 71.16 83.20 70.99 85.82 71.60 L 103.27 76.14 C 107.63 77.53 110.25 79.45 112.43 82.51" fill="none" stroke="#111" stroke-width="0.83" /><path d="M 82.76 75.09 L 111.12 83.12 C 112.87 83.82 114.17 84.86 114.61 86.00 M 85.82 77.27 L 109.38 84.25" fill="none" stroke="#111" stroke-width="1.0" /><path d="M 76.22 73.78 L 77.09 76.40 M 82.76 75.09 L 84.51 77.71" fill="none" stroke="#111" stroke-width="0.83" /><path d="M 68.36 82.07 C 67.93 78.14 71.42 75.79 75.78 75.96 C 81.45 75.96 86.69 78.14 90.18 80.76" fill="none" stroke="#111" stroke-width="1.18" /><path d="M 68.36 82.07 C 68.36 87.31 71.85 90.80 76.22 92.10 L 85.38 94.98 C 88.00 95.60 88.87 92.54 86.86 90.62" fill="none" stroke="#111" stroke-width="1.18" /><path d="M 72.49 92.07 L 71.90 91.10 L 71.41 90.09 L 71.04 89.04 L 70.79 87.99 L 70.65 86.90 L 70.64 85.82 L 70.75 84.75 L 70.98 83.68 L 71.33 82.64 L 71.79 81.62 L 72.36 80.64 L 73.05 79.70" fill="none" stroke="#111" stroke-width="1.47" /><path d="M 76.89 92.56 L 76.00 91.62 L 75.25 90.60 L 74.67 89.53 L 74.25 88.40 L 74.01 87.25 L 73.95 86.08 L 74.06 84.92 L 74.36 83.78 L 74.82 82.66 L 75.46 81.61 L 76.24 80.61 L 77.18 79.70" fill="none" stroke="#111" stroke-width="1.47" /><path d="M 81.21 92.17 L 80.04 91.42 L 79.04 90.52 L 78.25 89.50 L 77.68 88.40 L 77.35 87.25 L 77.26 86.07 L 77.43 84.89 L 77.84 83.75 L 78.49 82.68 L 79.34 81.70 L 80.40 80.85 L 81.61 80.14" fill="none" stroke="#111" stroke-width="1.47" /><path d="M 85.45 90.95 L 84.08 90.63 L 82.84 90.06 L 81.80 89.29 L 81.02 88.34 L 80.55 87.29 L 80.40 86.17 L 80.60 85.06 L 81.12 84.02 L 81.94 83.10 L 83.01 82.36 L 84.27 81.83 L 85.67 81.54" fill="none" stroke="#111" stroke-width="1.47" /><path d="M 86.86 90.62 C 82.76 89.92 81.89 84.69 85.38 83.38 C 89.31 82.24 92.36 85.56 91.49 89.92 C 91.23 91.67 92.80 92.54 94.54 91.23 C 97.60 88.18 95.41 80.76 89.31 79.45 C 82.76 78.58 78.40 82.51 79.27 87.31 C 79.71 90.80 82.76 93.41 85.82 94.46" fill="none" stroke="#111" stroke-width="1.3" /><path d="M 85.82 89.75 C 83.37 88.18 83.90 84.51 86.51 84.25 C 89.48 84.25 90.61 86.87 90.00 89.75" fill="none" stroke="#3a3a3a" stroke-width="2.36" /><path d="M 86.51 88.18 C 85.82 87.31 86.16 86.26 87.21 86.43" fill="none" stroke="#777" stroke-width="1.65" /><path d="M 96.46 88.18 C 98.90 86.43 99.78 84.86 99.34 83.38 M 96.46 88.18 C 98.47 90.80 100.65 96.03 102.39 101.70 L 118.54 105.63 C 120.72 101.27 120.28 95.16 117.66 90.36" fill="none" stroke="#111" stroke-width="1.18" /><path d="M 99.34 83.38 L 116.36 89.05" fill="none" stroke="#111" stroke-width="0.94" /><path d="M 101.35 84.86 C 104.31 89.92 105.19 96.90 104.31 102.31" fill="none" stroke="#111" stroke-width="1.53" /><path d="M 104.66 85.82 C 107.63 90.71 108.50 97.43 107.63 103.10" fill="none" stroke="#111" stroke-width="1.53" /><path d="M 107.98 86.78 C 110.95 91.49 111.82 97.95 110.95 103.88" fill="none" stroke="#111" stroke-width="1.53" /><path d="M 111.29 87.74 C 114.26 92.28 115.13 98.47 114.26 104.67" fill="none" stroke="#111" stroke-width="1.53" /><path d="M 114.44 88.70 C 117.40 93.06 118.28 99.00 117.40 105.46" fill="none" stroke="#111" stroke-width="1.53" /><path d="M 116.36 89.05 L 126.39 88.18 L 126.83 98.65 L 120.72 101.70 L 120.28 92.10 Z M 120.28 92.10 L 126.39 88.18 M 121.59 94.29 L 125.52 92.10 L 125.78 97.78 L 122.03 99.96 Z" fill="none" stroke="#111" stroke-width="1.06" /><path d="M 112.87 86.87 C 114.17 86.00 116.36 86.43 118.54 88.18" fill="none" stroke="#111" stroke-width="0.83" /></g><polygon points="344.40,390.80 344.40,401.20 341.80,401.20 346.00,406.20 350.20,401.20 347.60,401.20 347.60,390.80" fill="#151515" stroke="#151515" stroke-width="0.3"/><polygon points="398.31,419.60 388.00,422.70 392.51,430.63 382.44,427.08 378.50,435.20 374.56,427.08 364.49,430.63 369.00,422.70 358.69,419.60 369.00,416.50 364.49,408.57 374.56,412.12 378.50,404.00 382.44,412.12 392.51,408.57 388.00,416.50" fill="#0e0e0e" stroke="#0e0e0e" stroke-width="0.6"/><text x="378.50" y="422.50" text-anchor="middle" class="clk" fill="#fff" font-size="9.5" textLength="16.8" lengthAdjust="spacingAndGlyphs">click</text></g>
<g clip-path="url(#cS3)"><g transform="translate(230.90 127.10)"><path d="M 15.00 93.68 L 48.71 101.72 L 52.37 104.97 C 54.40 106.19 56.43 102.77 62.93 102.53 L 92.18 110.25" fill="none" stroke="#111" stroke-width="1.0" /><path d="M 88.00 109.03 L 114.81 116.10" fill="none" stroke="#111" stroke-width="1.0" /><path d="M 15.00 103.59 L 42.62 111.47 L 44.65 114.31 M 42.62 111.47 L 49.28 102.12 M 44.65 114.31 L 52.21 105.13" fill="none" stroke="#111" stroke-width="0.89" /><path d="M 15.00 98.71 L 32.47 101.31 L 34.09 102.12 L 30.84 104.56 L 15.00 101.96 M 15.00 99.69 L 32.06 102.29" fill="none" stroke="#111" stroke-width="0.83" /><path d="M 15.00 98.87 L 32.47 101.39" fill="none" stroke="#111" stroke-width="1.42" /><path d="M 44.65 114.31 C 47.50 114.15 49.93 112.36 53.18 111.87 C 56.03 111.55 57.65 112.36 59.28 112.85 L 92.18 122.43" fill="none" stroke="#111" stroke-width="1.0" /><path d="M 88.00 121.21 L 108.31 125.84 L 114.00 128.52 C 118.06 129.34 122.52 132.18 127.16 138.27" fill="none" stroke="#111" stroke-width="1.0" /><path d="M 35.55 112.03 L 35.55 123.24 M 35.55 123.24 C 32.87 122.03 29.62 120.16 26.78 118.78 L 15.00 113.33" fill="none" stroke="#111" stroke-width="0.89" /><path d="M 15.00 121.21 L 24.75 125.84 L 25.97 128.12 L 15.00 124.87 Z" fill="#333" stroke="#111" stroke-width="0.71" /><path d="M 35.55 123.22 C 38.56 124.84 41.00 126.06 44.25 126.87 L 92.18 139.87" fill="none" stroke="#111" stroke-width="0.94" /><path d="M 88.00 138.65 L 126.18 149.21" fill="none" stroke="#111" stroke-width="0.94" /><path d="M 15.00 123.62 L 154.81 161.15" fill="none" stroke="#111" stroke-width="0.94" /><path d="M 127.20 138.09 L 134.51 140.12 L 184.06 151.90" fill="none" stroke="#111" stroke-width="0.94" /><path d="M 134.51 140.12 L 134.51 150.28" fill="none" stroke="#111" stroke-width="0.94" /><path d="M 125.57 149.22 L 134.51 150.28 C 137.76 149.46 141.82 149.46 145.07 150.28 L 184.06 160.27" fill="none" stroke="#111" stroke-width="0.94" /><path d="M 145.88 138.09 L 148.72 135.25 L 163.75 138.50 C 167.00 139.31 166.60 141.91 163.75 141.42 L 147.10 137.85" fill="none" stroke="#111" stroke-width="1.06" /><path d="M 146.04 138.17 L 148.81 135.41" fill="none" stroke="#111" stroke-width="1.89" /><path d="M 149.13 136.47 L 164.16 139.80" fill="none" stroke="#111" stroke-width="0.71" /><path d="M 154.82 161.16 L 158.47 159.29 L 184.06 158.64" fill="none" stroke="#111" stroke-width="0.94" /><path d="M 156.44 160.75 C 157.66 159.13 159.69 159.13 160.91 160.35 L 159.69 163.60 M 159.69 162.38 L 184.06 162.38 M 158.47 159.29 L 159.69 162.38" fill="none" stroke="#111" stroke-width="1.53" /><path d="M15.00 129.50 L186.00 174.64" stroke="#141414" stroke-width="0.7" fill="none"/><path d="M15.00 132.40 L186.00 177.54" stroke="#141414" stroke-width="2.4" fill="none"/><path d="M15.00 134.80 L186.00 179.94" stroke="#333" stroke-width="0.6" fill="none"/><path d="M15.00 136.30 L186.00 181.44" stroke="#141414" stroke-width="1.4" fill="none"/><path d="M15.00 138.00 L186.00 183.14" stroke="#333" stroke-width="0.6" fill="none"/><path d="M15.00 139.30 L186.00 184.44" stroke="#444" stroke-width="0.55" fill="none"/><path d="M15.00 140.60 L186.00 185.74" stroke="#555" stroke-width="0.5" fill="none"/><path d="M15.00 141.80 L186.00 186.94" stroke="#666" stroke-width="0.45" fill="none"/></g><g transform="translate(230.90 127.10)"><ellipse cx="73.49" cy="125.28" rx="3.74" ry="4.55" fill="none" stroke="#111" stroke-width="1.59" transform="rotate(-12 73.49 125.28)"/><path d="M 70.65 124.22 L 76.74 125.84" fill="none" stroke="#111" stroke-width="1.06" /><ellipse cx="85.03" cy="127.47" rx="3.09" ry="3.25" fill="#ddd" stroke="#111" stroke-width="1.59"/><ellipse cx="84.86" cy="127.71" rx="1.46" ry="1.46" fill="#888" stroke="#333" stroke-width="1.18"/><ellipse cx="97.10" cy="129.74" rx="3.57" ry="3.74" fill="none" stroke="#111" stroke-width="1.59"/><path d="M 94.09 128.77 L 100.19 130.56 M 94.50 130.72 L 99.37 132.02" fill="none" stroke="#111" stroke-width="0.94" /></g><g transform="translate(230.90 127.10)"><path d="M 119.07 128.10 L 125.17 124.04 L 132.48 126.72 L 135.32 129.97 L 127.20 138.09 L 121.51 132.00 Z" fill="#fff" stroke="#111" stroke-width="1.0" /><path d="M 135.32 129.97 L 184.06 140.28" fill="none" stroke="#111" stroke-width="1.0" /></g><g transform="translate(118.20 9.60)"><path d="M 191.24 234.37 L 197.74 229.17 L 231.05 233.56 L 232.67 248.18 Z" fill="#fff" stroke="none" stroke-width="0.0" /><path d="M 196.93 229.17 C 198.72 231.61 200.18 235.26 200.83 238.51" fill="none" stroke="#111" stroke-width="1.42" /><path d="M 201.80 229.90 C 203.59 232.34 205.05 236.73 205.70 239.98" fill="none" stroke="#111" stroke-width="1.42" /><path d="M 206.68 230.63 C 208.46 233.07 209.93 238.11 210.58 241.36" fill="none" stroke="#111" stroke-width="1.42" /><path d="M 211.55 231.36 C 213.34 233.80 214.80 239.49 215.45 242.74" fill="none" stroke="#111" stroke-width="1.42" /><path d="M 216.42 232.10 C 218.21 234.53 219.67 240.95 220.32 244.20" fill="none" stroke="#111" stroke-width="1.42" /><path d="M 221.30 232.83 C 223.09 235.26 224.55 242.33 225.20 245.58" fill="none" stroke="#111" stroke-width="1.42" /><path d="M 226.17 233.56 C 227.96 236.00 229.42 243.71 230.07 246.96" fill="none" stroke="#111" stroke-width="1.42" /><path d="M 189.62 235.35 L 232.67 247.77" fill="none" stroke="#111" stroke-width="1.0" /><path d="M 226.58 230.47 L 234.30 226.90 L 240.15 237.46 L 233.48 241.03 L 230.64 246.39 L 229.02 244.93 Z" fill="#fff" stroke="#111" stroke-width="1.0" /><path d="M 229.83 231.45 L 234.30 227.55 L 239.66 237.21 L 233.48 241.03 Z" fill="none" stroke="#111" stroke-width="1.0" /><path d="M 232.02 234.05 L 234.95 231.93 L 236.90 235.83 L 233.89 238.03 Z" fill="none" stroke="#111" stroke-width="1.0" /><path d="M 226.58 230.47 L 229.83 231.45 L 233.48 241.03" fill="none" stroke="#111" stroke-width="1.0" /></g><path d="M 357.80 248.63 L 404.03 239.89 M 360.48 251.99 L 404.03 243.25 M 375.27 245.27 L 380.65 244.19 M 386.02 243.25 L 390.05 242.58" fill="none" stroke="#111" stroke-width="0.94" /><path d="M 307.39 243.25 L 313.44 238.82 L 344.35 234.52 L 351.08 231.16 L 392.74 224.44 L 397.04 225.78 L 397.58 228.60 L 380.91 233.17 L 375.27 238.82 L 314.78 243.66 Z" fill="#fff" stroke="#111" stroke-width="1.0" /><path d="M 313.44 238.82 L 314.78 243.66 M 313.44 239.22 L 374.60 234.78 L 379.30 232.10 M 344.35 234.52 L 375.27 232.10 M 351.08 231.29 L 353.09 232.90 M 374.60 234.78 L 375.27 238.82 M 392.74 224.57 L 394.09 227.12 L 380.65 230.75 L 379.30 232.10" fill="none" stroke="#111" stroke-width="0.94" /><path d="M 392.74 224.44 C 396.10 223.76 398.12 226.45 397.04 228.87" fill="none" stroke="#111" stroke-width="1.3" /><ellipse cx="345.70" cy="222.42" rx="5.11" ry="2.28" fill="#333" stroke="#111" stroke-width="1.18" transform="rotate(-14 345.70 222.42)"/><ellipse cx="345.70" cy="222.42" rx="2.15" ry="0.81" fill="#ddd" stroke="#ddd" stroke-width="0.71" transform="rotate(-14 345.70 222.42)"/><ellipse cx="345.70" cy="223.36" rx="5.11" ry="2.28" fill="none" stroke="#111" stroke-width="0.83" transform="rotate(-14 345.70 223.36)"/><ellipse cx="375.27" cy="218.39" rx="5.11" ry="2.28" fill="#333" stroke="#111" stroke-width="1.18" transform="rotate(-14 375.27 218.39)"/><ellipse cx="375.27" cy="218.39" rx="2.15" ry="0.81" fill="#ddd" stroke="#ddd" stroke-width="0.71" transform="rotate(-14 375.27 218.39)"/><ellipse cx="375.27" cy="219.33" rx="5.11" ry="2.28" fill="none" stroke="#111" stroke-width="0.83" transform="rotate(-14 375.27 219.33)"/><path d="M 339.11 208.71 L 343.95 207.90 L 344.76 214.62 L 340.19 215.43 Z" fill="#fff" stroke="#111" stroke-width="1.0" /><ellipse cx="340.99" cy="207.63" rx="4.17" ry="2.82" fill="#fff" stroke="#111" stroke-width="1.0" transform="rotate(-10 340.99 207.63)"/><path d="M 339.38 207.37 L 342.88 206.83 M 340.73 206.02 L 341.53 208.17" fill="none" stroke="#111" stroke-width="0.94" /><path d="M 367.34 205.35 L 372.18 204.54 L 372.98 211.26 L 368.41 212.07 Z" fill="#fff" stroke="#111" stroke-width="1.0" /><ellipse cx="369.22" cy="204.27" rx="4.17" ry="2.82" fill="#fff" stroke="#111" stroke-width="1.0" transform="rotate(-10 369.22 204.27)"/><path d="M 367.61 204.01 L 371.10 203.47 M 368.95 202.66 L 369.76 204.81" fill="none" stroke="#111" stroke-width="0.94" /><path d="M 323.12 171.34 L 332.93 192.85 L 338.98 191.51 L 330.11 171.34 Z" fill="#fff" stroke="none" stroke-width="0.0" /><path d="M 323.12 171.34 L 332.93 192.85 M 330.11 171.34 L 338.98 191.51" fill="none" stroke="#111" stroke-width="1.0" /><path d="M 332.93 192.85 L 335.22 198.90 L 338.98 197.55 L 338.98 191.51 Z" fill="#777" stroke="#111" stroke-width="1.0" /><path d="M 325.27 185.05 C 312.77 186.13 309.41 198.90 320.16 201.72" fill="none" stroke="#151515" stroke-width="3.54" stroke-linecap="butt"/><path d="M 319.09 197.55 326.88 201.99 320.16 205.22 Z" fill="#151515" stroke="#151515" stroke-width="0.35" /></g>
<g clip-path="url(#cS4)"><g transform="translate(346.30 124.40)"><path d="M 15.00 93.68 L 48.71 101.72 L 52.37 104.97 C 54.40 106.19 56.43 102.77 62.93 102.53 L 92.18 110.25" fill="none" stroke="#111" stroke-width="1.0" /><path d="M 88.00 109.03 L 114.81 116.10" fill="none" stroke="#111" stroke-width="1.0" /><path d="M 15.00 103.59 L 42.62 111.47 L 44.65 114.31 M 42.62 111.47 L 49.28 102.12 M 44.65 114.31 L 52.21 105.13" fill="none" stroke="#111" stroke-width="0.89" /><path d="M 15.00 98.71 L 32.47 101.31 L 34.09 102.12 L 30.84 104.56 L 15.00 101.96 M 15.00 99.69 L 32.06 102.29" fill="none" stroke="#111" stroke-width="0.83" /><path d="M 15.00 98.87 L 32.47 101.39" fill="none" stroke="#111" stroke-width="1.42" /><path d="M 44.65 114.31 C 47.50 114.15 49.93 112.36 53.18 111.87 C 56.03 111.55 57.65 112.36 59.28 112.85 L 92.18 122.43" fill="none" stroke="#111" stroke-width="1.0" /><path d="M 88.00 121.21 L 108.31 125.84 L 114.00 128.52 C 118.06 129.34 122.52 132.18 127.16 138.27" fill="none" stroke="#111" stroke-width="1.0" /><path d="M 35.55 112.03 L 35.55 123.24 M 35.55 123.24 C 32.87 122.03 29.62 120.16 26.78 118.78 L 15.00 113.33" fill="none" stroke="#111" stroke-width="0.89" /><path d="M 15.00 121.21 L 24.75 125.84 L 25.97 128.12 L 15.00 124.87 Z" fill="#333" stroke="#111" stroke-width="0.71" /><path d="M 35.55 123.22 C 38.56 124.84 41.00 126.06 44.25 126.87 L 92.18 139.87" fill="none" stroke="#111" stroke-width="0.94" /><path d="M 88.00 138.65 L 126.18 149.21" fill="none" stroke="#111" stroke-width="0.94" /><path d="M 15.00 123.62 L 154.81 161.15" fill="none" stroke="#111" stroke-width="0.94" /><path d="M 127.20 138.09 L 134.51 140.12 L 184.06 151.90" fill="none" stroke="#111" stroke-width="0.94" /><path d="M 134.51 140.12 L 134.51 150.28" fill="none" stroke="#111" stroke-width="0.94" /><path d="M 125.57 149.22 L 134.51 150.28 C 137.76 149.46 141.82 149.46 145.07 150.28 L 184.06 160.27" fill="none" stroke="#111" stroke-width="0.94" /><path d="M 145.88 138.09 L 148.72 135.25 L 163.75 138.50 C 167.00 139.31 166.60 141.91 163.75 141.42 L 147.10 137.85" fill="none" stroke="#111" stroke-width="1.06" /><path d="M 146.04 138.17 L 148.81 135.41" fill="none" stroke="#111" stroke-width="1.89" /><path d="M 149.13 136.47 L 164.16 139.80" fill="none" stroke="#111" stroke-width="0.71" /><path d="M 154.82 161.16 L 158.47 159.29 L 184.06 158.64" fill="none" stroke="#111" stroke-width="0.94" /><path d="M 156.44 160.75 C 157.66 159.13 159.69 159.13 160.91 160.35 L 159.69 163.60 M 159.69 162.38 L 184.06 162.38 M 158.47 159.29 L 159.69 162.38" fill="none" stroke="#111" stroke-width="1.53" /><path d="M15.00 129.50 L186.00 174.64" stroke="#141414" stroke-width="0.7" fill="none"/><path d="M15.00 132.40 L186.00 177.54" stroke="#141414" stroke-width="2.4" fill="none"/><path d="M15.00 134.80 L186.00 179.94" stroke="#333" stroke-width="0.6" fill="none"/><path d="M15.00 136.30 L186.00 181.44" stroke="#141414" stroke-width="1.4" fill="none"/><path d="M15.00 138.00 L186.00 183.14" stroke="#333" stroke-width="0.6" fill="none"/><path d="M15.00 139.30 L186.00 184.44" stroke="#444" stroke-width="0.55" fill="none"/><path d="M15.00 140.60 L186.00 185.74" stroke="#555" stroke-width="0.5" fill="none"/><path d="M15.00 141.80 L186.00 186.94" stroke="#666" stroke-width="0.45" fill="none"/></g><g transform="translate(346.30 124.40)"><ellipse cx="73.49" cy="125.28" rx="3.74" ry="4.55" fill="none" stroke="#111" stroke-width="1.59" transform="rotate(-12 73.49 125.28)"/><path d="M 70.65 124.22 L 76.74 125.84" fill="none" stroke="#111" stroke-width="1.06" /><ellipse cx="85.03" cy="127.47" rx="3.09" ry="3.25" fill="#ddd" stroke="#111" stroke-width="1.59"/><ellipse cx="84.86" cy="127.71" rx="1.46" ry="1.46" fill="#888" stroke="#333" stroke-width="1.18"/><ellipse cx="97.10" cy="129.74" rx="3.57" ry="3.74" fill="none" stroke="#111" stroke-width="1.59"/><path d="M 94.09 128.77 L 100.19 130.56 M 94.50 130.72 L 99.37 132.02" fill="none" stroke="#111" stroke-width="0.94" /></g><g transform="translate(346.30 124.40)"><path d="M 119.07 128.10 L 125.17 124.04 L 132.48 126.72 L 135.32 129.97 L 127.20 138.09 L 121.51 132.00 Z" fill="#fff" stroke="#111" stroke-width="1.0" /><path d="M 135.32 129.97 L 184.06 140.28" fill="none" stroke="#111" stroke-width="1.0" /></g><g transform="translate(233.60 6.90)"><path d="M 191.24 234.37 L 197.74 229.17 L 231.05 233.56 L 232.67 248.18 Z" fill="#fff" stroke="none" stroke-width="0.0" /><path d="M 196.93 229.17 C 198.72 231.61 200.18 235.26 200.83 238.51" fill="none" stroke="#111" stroke-width="1.42" /><path d="M 201.80 229.90 C 203.59 232.34 205.05 236.73 205.70 239.98" fill="none" stroke="#111" stroke-width="1.42" /><path d="M 206.68 230.63 C 208.46 233.07 209.93 238.11 210.58 241.36" fill="none" stroke="#111" stroke-width="1.42" /><path d="M 211.55 231.36 C 213.34 233.80 214.80 239.49 215.45 242.74" fill="none" stroke="#111" stroke-width="1.42" /><path d="M 216.42 232.10 C 218.21 234.53 219.67 240.95 220.32 244.20" fill="none" stroke="#111" stroke-width="1.42" /><path d="M 221.30 232.83 C 223.09 235.26 224.55 242.33 225.20 245.58" fill="none" stroke="#111" stroke-width="1.42" /><path d="M 226.17 233.56 C 227.96 236.00 229.42 243.71 230.07 246.96" fill="none" stroke="#111" stroke-width="1.42" /><path d="M 189.62 235.35 L 232.67 247.77" fill="none" stroke="#111" stroke-width="1.0" /><path d="M 226.58 230.47 L 234.30 226.90 L 240.15 237.46 L 233.48 241.03 L 230.64 246.39 L 229.02 244.93 Z" fill="#fff" stroke="#111" stroke-width="1.0" /><path d="M 229.83 231.45 L 234.30 227.55 L 239.66 237.21 L 233.48 241.03 Z" fill="none" stroke="#111" stroke-width="1.0" /><path d="M 232.02 234.05 L 234.95 231.93 L 236.90 235.83 L 233.89 238.03 Z" fill="none" stroke="#111" stroke-width="1.0" /><path d="M 226.58 230.47 L 229.83 231.45 L 233.48 241.03" fill="none" stroke="#111" stroke-width="1.0" /></g><path d="M 495.27 233.17 L 524.03 227.12 M 499.30 234.78 L 524.03 230.48 M 483.17 250.65 L 524.03 242.58" fill="none" stroke="#111" stroke-width="0.94" /><path d="M 422.42 240.16 L 428.06 235.86 L 463.01 230.75 L 492.58 226.45 L 514.09 223.09 L 524.03 223.76 L 524.03 227.12 L 495.27 231.56 L 491.24 237.47 L 429.41 240.97 Z" fill="#fff" stroke="#111" stroke-width="1.0" /><path d="M 428.06 236.13 L 429.41 240.97 M 428.33 236.40 L 490.56 233.17 L 495.27 229.81 M 490.56 233.17 L 491.24 237.47 M 500.65 229.14 L 506.02 225.78 M 508.71 227.80 L 514.09 224.44" fill="none" stroke="#111" stroke-width="0.94" /><path d="M 462.74 230.22 C 463.01 225.11 471.08 224.44 471.75 229.14 Z" fill="#fff" stroke="#111" stroke-width="1.0" /><path d="M 465.03 227.12 L 469.06 226.45" fill="none" stroke="#111" stroke-width="0.83" /><path d="M 491.64 226.45 C 491.91 221.48 499.97 220.81 500.65 225.38 Z" fill="#fff" stroke="#111" stroke-width="1.0" /><path d="M 493.92 223.49 L 497.96 222.82" fill="none" stroke="#111" stroke-width="0.83" /><path d="M 442.58 171.34 L 456.29 206.29 L 462.34 204.27 L 449.84 171.34 Z" fill="#fff" stroke="none" stroke-width="0.0" /><path d="M 442.58 171.34 L 456.29 206.29 M 449.84 171.34 L 462.34 204.27" fill="none" stroke="#111" stroke-width="1.0" /><path d="M 456.29 206.29 L 458.98 212.34 L 463.01 210.99 L 462.34 204.27 Z" fill="#777" stroke="#111" stroke-width="1.0" /></g>
<g clip-path="url(#cB2)"><g transform="translate(232.10 401.30)"><path d="M 15.00 93.68 L 48.71 101.72 L 52.37 104.97 C 54.40 106.19 56.43 102.77 62.93 102.53 L 92.18 110.25" fill="none" stroke="#111" stroke-width="1.0" /><path d="M 88.00 109.03 L 114.81 116.10" fill="none" stroke="#111" stroke-width="1.0" /><path d="M 15.00 103.59 L 42.62 111.47 L 44.65 114.31 M 42.62 111.47 L 49.28 102.12 M 44.65 114.31 L 52.21 105.13" fill="none" stroke="#111" stroke-width="0.89" /><path d="M 15.00 98.71 L 32.47 101.31 L 34.09 102.12 L 30.84 104.56 L 15.00 101.96 M 15.00 99.69 L 32.06 102.29" fill="none" stroke="#111" stroke-width="0.83" /><path d="M 15.00 98.87 L 32.47 101.39" fill="none" stroke="#111" stroke-width="1.42" /><path d="M 44.65 114.31 C 47.50 114.15 49.93 112.36 53.18 111.87 C 56.03 111.55 57.65 112.36 59.28 112.85 L 92.18 122.43" fill="none" stroke="#111" stroke-width="1.0" /><path d="M 88.00 121.21 L 108.31 125.84 L 114.00 128.52 C 118.06 129.34 122.52 132.18 127.16 138.27" fill="none" stroke="#111" stroke-width="1.0" /><path d="M 35.55 112.03 L 35.55 123.24 M 35.55 123.24 C 32.87 122.03 29.62 120.16 26.78 118.78 L 15.00 113.33" fill="none" stroke="#111" stroke-width="0.89" /><path d="M 15.00 121.21 L 24.75 125.84 L 25.97 128.12 L 15.00 124.87 Z" fill="#333" stroke="#111" stroke-width="0.71" /><path d="M 35.55 123.22 C 38.56 124.84 41.00 126.06 44.25 126.87 L 92.18 139.87" fill="none" stroke="#111" stroke-width="0.94" /><path d="M 88.00 138.65 L 126.18 149.21" fill="none" stroke="#111" stroke-width="0.94" /><path d="M 15.00 123.62 L 154.81 161.15" fill="none" stroke="#111" stroke-width="0.94" /><path d="M 127.20 138.09 L 134.51 140.12 L 184.06 151.90" fill="none" stroke="#111" stroke-width="0.94" /><path d="M 134.51 140.12 L 134.51 150.28" fill="none" stroke="#111" stroke-width="0.94" /><path d="M 125.57 149.22 L 134.51 150.28 C 137.76 149.46 141.82 149.46 145.07 150.28 L 184.06 160.27" fill="none" stroke="#111" stroke-width="0.94" /><path d="M 145.88 138.09 L 148.72 135.25 L 163.75 138.50 C 167.00 139.31 166.60 141.91 163.75 141.42 L 147.10 137.85" fill="none" stroke="#111" stroke-width="1.06" /><path d="M 146.04 138.17 L 148.81 135.41" fill="none" stroke="#111" stroke-width="1.89" /><path d="M 149.13 136.47 L 164.16 139.80" fill="none" stroke="#111" stroke-width="0.71" /><path d="M 154.82 161.16 L 158.47 159.29 L 184.06 158.64" fill="none" stroke="#111" stroke-width="0.94" /><path d="M 156.44 160.75 C 157.66 159.13 159.69 159.13 160.91 160.35 L 159.69 163.60 M 159.69 162.38 L 184.06 162.38 M 158.47 159.29 L 159.69 162.38" fill="none" stroke="#111" stroke-width="1.53" /><path d="M15.00 129.50 L186.00 174.64" stroke="#141414" stroke-width="0.7" fill="none"/><path d="M15.00 132.40 L186.00 177.54" stroke="#141414" stroke-width="2.4" fill="none"/><path d="M15.00 134.80 L186.00 179.94" stroke="#333" stroke-width="0.6" fill="none"/><path d="M15.00 136.30 L186.00 181.44" stroke="#141414" stroke-width="1.4" fill="none"/><path d="M15.00 138.00 L186.00 183.14" stroke="#333" stroke-width="0.6" fill="none"/><path d="M15.00 139.30 L186.00 184.44" stroke="#444" stroke-width="0.55" fill="none"/><path d="M15.00 140.60 L186.00 185.74" stroke="#555" stroke-width="0.5" fill="none"/><path d="M15.00 141.80 L186.00 186.94" stroke="#666" stroke-width="0.45" fill="none"/></g><g transform="translate(232.10 401.30)"><ellipse cx="73.49" cy="125.28" rx="3.74" ry="4.55" fill="none" stroke="#111" stroke-width="1.59" transform="rotate(-12 73.49 125.28)"/><path d="M 70.65 124.22 L 76.74 125.84" fill="none" stroke="#111" stroke-width="1.06" /><ellipse cx="85.03" cy="127.47" rx="3.09" ry="3.25" fill="#ddd" stroke="#111" stroke-width="1.59"/><ellipse cx="84.86" cy="127.71" rx="1.46" ry="1.46" fill="#888" stroke="#333" stroke-width="1.18"/><ellipse cx="97.10" cy="129.74" rx="3.57" ry="3.74" fill="none" stroke="#111" stroke-width="1.59"/><path d="M 94.09 128.77 L 100.19 130.56 M 94.50 130.72 L 99.37 132.02" fill="none" stroke="#111" stroke-width="0.94" /></g><g transform="translate(232.10 401.30)"><path d="M 119.07 128.10 L 125.17 124.04 L 132.48 126.72 L 135.32 129.97 L 127.20 138.09 L 121.51 132.00 Z" fill="#fff" stroke="#111" stroke-width="1.0" /><path d="M 135.32 129.97 L 184.06 140.28" fill="none" stroke="#111" stroke-width="1.0" /></g><g transform="translate(119.40 283.80)"><path d="M 191.24 234.37 L 197.74 229.17 L 231.05 233.56 L 232.67 248.18 Z" fill="#fff" stroke="none" stroke-width="0.0" /><path d="M 196.93 229.17 C 198.72 231.61 200.18 235.26 200.83 238.51" fill="none" stroke="#111" stroke-width="1.42" /><path d="M 201.80 229.90 C 203.59 232.34 205.05 236.73 205.70 239.98" fill="none" stroke="#111" stroke-width="1.42" /><path d="M 206.68 230.63 C 208.46 233.07 209.93 238.11 210.58 241.36" fill="none" stroke="#111" stroke-width="1.42" /><path d="M 211.55 231.36 C 213.34 233.80 214.80 239.49 215.45 242.74" fill="none" stroke="#111" stroke-width="1.42" /><path d="M 216.42 232.10 C 218.21 234.53 219.67 240.95 220.32 244.20" fill="none" stroke="#111" stroke-width="1.42" /><path d="M 221.30 232.83 C 223.09 235.26 224.55 242.33 225.20 245.58" fill="none" stroke="#111" stroke-width="1.42" /><path d="M 226.17 233.56 C 227.96 236.00 229.42 243.71 230.07 246.96" fill="none" stroke="#111" stroke-width="1.42" /><path d="M 189.62 235.35 L 232.67 247.77" fill="none" stroke="#111" stroke-width="1.0" /><path d="M 226.58 230.47 L 234.30 226.90 L 240.15 237.46 L 233.48 241.03 L 230.64 246.39 L 229.02 244.93 Z" fill="#fff" stroke="#111" stroke-width="1.0" /><path d="M 229.83 231.45 L 234.30 227.55 L 239.66 237.21 L 233.48 241.03 Z" fill="none" stroke="#111" stroke-width="1.0" /><path d="M 232.02 234.05 L 234.95 231.93 L 236.90 235.83 L 233.89 238.03 Z" fill="none" stroke="#111" stroke-width="1.0" /><path d="M 226.58 230.47 L 229.83 231.45 L 233.48 241.03" fill="none" stroke="#111" stroke-width="1.0" /></g><path d="M 309.05 517.19 L 331.81 508.65 L 340.35 510.28 L 341.98 513.12 L 315.96 520.03 Z" fill="#fff" stroke="#111" stroke-width="1.0" /><path d="M 311.49 517.59 L 333.44 509.87 M 340.35 510.28 L 338.93 513.73" fill="none" stroke="#111" stroke-width="0.94" /><ellipse cx="342.99" cy="513.93" rx="2.44" ry="1.22" fill="#555" stroke="#111" stroke-width="1.06" transform="rotate(10 342.99 513.93)"/><path d="M 358.64 523.28 L 362.71 517.59 L 405.39 526.54 L 405.39 538.12 L 362.30 528.16 Z" fill="#fff" stroke="#111" stroke-width="1.0" /><path d="M 360.67 522.47 L 405.39 532.23 M 382.22 521.25 L 382.22 523.28 L 385.07 523.89 L 385.07 521.86" fill="none" stroke="#111" stroke-width="0.94" /><polygon points="392.83,511.91 380.39,510.39 380.73,507.61 374.60,511.60 379.59,516.94 379.93,514.17 392.37,515.69" fill="#151515" stroke="#151515" stroke-width="0.3"/></g>
<g clip-path="url(#cB3)"><g transform="translate(365.00 403.70)"><path d="M 15.00 93.68 L 48.71 101.72 L 52.37 104.97 C 54.40 106.19 56.43 102.77 62.93 102.53 L 92.18 110.25" fill="none" stroke="#111" stroke-width="1.0" /><path d="M 88.00 109.03 L 114.81 116.10" fill="none" stroke="#111" stroke-width="1.0" /><path d="M 15.00 103.59 L 42.62 111.47 L 44.65 114.31 M 42.62 111.47 L 49.28 102.12 M 44.65 114.31 L 52.21 105.13" fill="none" stroke="#111" stroke-width="0.89" /><path d="M 15.00 98.71 L 32.47 101.31 L 34.09 102.12 L 30.84 104.56 L 15.00 101.96 M 15.00 99.69 L 32.06 102.29" fill="none" stroke="#111" stroke-width="0.83" /><path d="M 15.00 98.87 L 32.47 101.39" fill="none" stroke="#111" stroke-width="1.42" /><path d="M 44.65 114.31 C 47.50 114.15 49.93 112.36 53.18 111.87 C 56.03 111.55 57.65 112.36 59.28 112.85 L 92.18 122.43" fill="none" stroke="#111" stroke-width="1.0" /><path d="M 88.00 121.21 L 108.31 125.84 L 114.00 128.52 C 118.06 129.34 122.52 132.18 127.16 138.27" fill="none" stroke="#111" stroke-width="1.0" /><path d="M 35.55 112.03 L 35.55 123.24 M 35.55 123.24 C 32.87 122.03 29.62 120.16 26.78 118.78 L 15.00 113.33" fill="none" stroke="#111" stroke-width="0.89" /><path d="M 15.00 121.21 L 24.75 125.84 L 25.97 128.12 L 15.00 124.87 Z" fill="#333" stroke="#111" stroke-width="0.71" /><path d="M 35.55 123.22 C 38.56 124.84 41.00 126.06 44.25 126.87 L 92.18 139.87" fill="none" stroke="#111" stroke-width="0.94" /><path d="M 88.00 138.65 L 126.18 149.21" fill="none" stroke="#111" stroke-width="0.94" /><path d="M 15.00 123.62 L 154.81 161.15" fill="none" stroke="#111" stroke-width="0.94" /><path d="M 127.20 138.09 L 134.51 140.12 L 184.06 151.90" fill="none" stroke="#111" stroke-width="0.94" /><path d="M 134.51 140.12 L 134.51 150.28" fill="none" stroke="#111" stroke-width="0.94" /><path d="M 125.57 149.22 L 134.51 150.28 C 137.76 149.46 141.82 149.46 145.07 150.28 L 184.06 160.27" fill="none" stroke="#111" stroke-width="0.94" /><path d="M 145.88 138.09 L 148.72 135.25 L 163.75 138.50 C 167.00 139.31 166.60 141.91 163.75 141.42 L 147.10 137.85" fill="none" stroke="#111" stroke-width="1.06" /><path d="M 146.04 138.17 L 148.81 135.41" fill="none" stroke="#111" stroke-width="1.89" /><path d="M 149.13 136.47 L 164.16 139.80" fill="none" stroke="#111" stroke-width="0.71" /><path d="M 154.82 161.16 L 158.47 159.29 L 184.06 158.64" fill="none" stroke="#111" stroke-width="0.94" /><path d="M 156.44 160.75 C 157.66 159.13 159.69 159.13 160.91 160.35 L 159.69 163.60 M 159.69 162.38 L 184.06 162.38 M 158.47 159.29 L 159.69 162.38" fill="none" stroke="#111" stroke-width="1.53" /><path d="M15.00 129.50 L186.00 174.64" stroke="#141414" stroke-width="0.7" fill="none"/><path d="M15.00 132.40 L186.00 177.54" stroke="#141414" stroke-width="2.4" fill="none"/><path d="M15.00 134.80 L186.00 179.94" stroke="#333" stroke-width="0.6" fill="none"/><path d="M15.00 136.30 L186.00 181.44" stroke="#141414" stroke-width="1.4" fill="none"/><path d="M15.00 138.00 L186.00 183.14" stroke="#333" stroke-width="0.6" fill="none"/><path d="M15.00 139.30 L186.00 184.44" stroke="#444" stroke-width="0.55" fill="none"/><path d="M15.00 140.60 L186.00 185.74" stroke="#555" stroke-width="0.5" fill="none"/><path d="M15.00 141.80 L186.00 186.94" stroke="#666" stroke-width="0.45" fill="none"/></g><g transform="translate(365.00 403.70)"><ellipse cx="73.49" cy="125.28" rx="3.74" ry="4.55" fill="none" stroke="#111" stroke-width="1.59" transform="rotate(-12 73.49 125.28)"/><path d="M 70.65 124.22 L 76.74 125.84" fill="none" stroke="#111" stroke-width="1.06" /><ellipse cx="85.03" cy="127.47" rx="3.09" ry="3.25" fill="#ddd" stroke="#111" stroke-width="1.59"/><ellipse cx="84.86" cy="127.71" rx="1.46" ry="1.46" fill="#888" stroke="#333" stroke-width="1.18"/><ellipse cx="97.10" cy="129.74" rx="3.57" ry="3.74" fill="none" stroke="#111" stroke-width="1.59"/><path d="M 94.09 128.77 L 100.19 130.56 M 94.50 130.72 L 99.37 132.02" fill="none" stroke="#111" stroke-width="0.94" /></g><g transform="translate(365.00 403.70)"><path d="M 119.07 128.10 L 125.17 124.04 L 132.48 126.72 L 135.32 129.97 L 127.20 138.09 L 121.51 132.00 Z" fill="#fff" stroke="#111" stroke-width="1.0" /><path d="M 135.32 129.97 L 184.06 140.28" fill="none" stroke="#111" stroke-width="1.0" /></g><path d="M 485.32 516.37 L 527.39 526.13 L 527.39 536.70 L 485.32 526.54 Z" fill="#fff" stroke="none" stroke-width="0.0" /><path d="M 485.32 516.37 L 527.39 526.13" fill="none" stroke="#111" stroke-width="1.0" /><path d="M 484.30 521.25 L 527.39 531.41" fill="none" stroke="#111" stroke-width="1.0" /><path d="M 485.32 526.54 L 527.39 536.70" fill="none" stroke="#111" stroke-width="1.0" /><path d="M 498.53 536.70 L 527.39 544.22" fill="none" stroke="#111" stroke-width="0.94" /><g transform="translate(252.30 286.20)"><path d="M 191.24 234.37 L 197.74 229.17 L 231.05 233.56 L 232.67 248.18 Z" fill="#fff" stroke="none" stroke-width="0.0" /><path d="M 196.93 229.17 C 198.72 231.61 200.18 235.26 200.83 238.51" fill="none" stroke="#111" stroke-width="1.42" /><path d="M 201.80 229.90 C 203.59 232.34 205.05 236.73 205.70 239.98" fill="none" stroke="#111" stroke-width="1.42" /><path d="M 206.68 230.63 C 208.46 233.07 209.93 238.11 210.58 241.36" fill="none" stroke="#111" stroke-width="1.42" /><path d="M 211.55 231.36 C 213.34 233.80 214.80 239.49 215.45 242.74" fill="none" stroke="#111" stroke-width="1.42" /><path d="M 216.42 232.10 C 218.21 234.53 219.67 240.95 220.32 244.20" fill="none" stroke="#111" stroke-width="1.42" /><path d="M 221.30 232.83 C 223.09 235.26 224.55 242.33 225.20 245.58" fill="none" stroke="#111" stroke-width="1.42" /><path d="M 226.17 233.56 C 227.96 236.00 229.42 243.71 230.07 246.96" fill="none" stroke="#111" stroke-width="1.42" /><path d="M 189.62 235.35 L 232.67 247.77" fill="none" stroke="#111" stroke-width="1.0" /><path d="M 226.58 230.47 L 234.30 226.90 L 240.15 237.46 L 233.48 241.03 L 230.64 246.39 L 229.02 244.93 Z" fill="#fff" stroke="#111" stroke-width="1.0" /><path d="M 229.83 231.45 L 234.30 227.55 L 239.66 237.21 L 233.48 241.03 Z" fill="none" stroke="#111" stroke-width="1.0" /><path d="M 232.02 234.05 L 234.95 231.93 L 236.90 235.83 L 233.89 238.03 Z" fill="none" stroke="#111" stroke-width="1.0" /><path d="M 226.58 230.47 L 229.83 231.45 L 233.48 241.03" fill="none" stroke="#111" stroke-width="1.0" /></g><path d="M 442.98 521.12 L 453.02 514.40 L 464.80 510.91 L 485.30 513.53 L 489.40 516.14 L 484.87 520.51 L 480.50 522.25 L 472.65 518.76 L 452.58 516.58 L 444.73 521.99 Z" fill="#fff" stroke="#111" stroke-width="1.0" /><path d="M 453.02 514.40 L 452.58 516.58 M 453.02 514.57 L 472.65 517.02 L 480.50 522.25 M 472.65 517.02 L 472.65 518.76 M 464.80 511.08 L 470.90 516.75" fill="none" stroke="#111" stroke-width="0.94" /><ellipse cx="475.44" cy="516.23" rx="2.97" ry="1.13" fill="#444" stroke="#111" stroke-width="1.18" transform="rotate(12 475.44 516.23)"/><path d="M 480.50 522.25 L 484.87 525.31 L 484.87 532.46 M 489.40 516.14 L 488.36 517.89 L 484.87 525.31" fill="none" stroke="#111" stroke-width="1.0" /><polygon points="522.01,500.20 511.70,503.30 516.21,511.23 506.14,507.68 502.20,515.80 498.26,507.68 488.19,511.23 492.70,503.30 482.39,500.20 492.70,497.10 488.19,489.17 498.26,492.72 502.20,484.60 506.14,492.72 516.21,489.17 511.70,497.10" fill="#0e0e0e" stroke="#0e0e0e" stroke-width="0.6"/><text x="502.20" y="503.10" text-anchor="middle" class="clk" fill="#fff" font-size="9.5" textLength="16.8" lengthAdjust="spacingAndGlyphs">click</text></g>
<g clip-path="url(#cP2)"><g transform="translate(502.70 97.10)"><path d="M 15.00 93.68 L 48.71 101.72 L 52.37 104.97 C 54.40 106.19 56.43 102.77 62.93 102.53 L 92.18 110.25" fill="none" stroke="#111" stroke-width="1.0" /><path d="M 88.00 109.03 L 114.81 116.10" fill="none" stroke="#111" stroke-width="1.0" /><path d="M 15.00 103.59 L 42.62 111.47 L 44.65 114.31 M 42.62 111.47 L 49.28 102.12 M 44.65 114.31 L 52.21 105.13" fill="none" stroke="#111" stroke-width="0.89" /><path d="M 15.00 98.71 L 32.47 101.31 L 34.09 102.12 L 30.84 104.56 L 15.00 101.96 M 15.00 99.69 L 32.06 102.29" fill="none" stroke="#111" stroke-width="0.83" /><path d="M 15.00 98.87 L 32.47 101.39" fill="none" stroke="#111" stroke-width="1.42" /><path d="M 44.65 114.31 C 47.50 114.15 49.93 112.36 53.18 111.87 C 56.03 111.55 57.65 112.36 59.28 112.85 L 92.18 122.43" fill="none" stroke="#111" stroke-width="1.0" /><path d="M 88.00 121.21 L 108.31 125.84 L 114.00 128.52 C 118.06 129.34 122.52 132.18 127.16 138.27" fill="none" stroke="#111" stroke-width="1.0" /><path d="M 35.55 112.03 L 35.55 123.24 M 35.55 123.24 C 32.87 122.03 29.62 120.16 26.78 118.78 L 15.00 113.33" fill="none" stroke="#111" stroke-width="0.89" /><path d="M 15.00 121.21 L 24.75 125.84 L 25.97 128.12 L 15.00 124.87 Z" fill="#333" stroke="#111" stroke-width="0.71" /><path d="M 35.55 123.22 C 38.56 124.84 41.00 126.06 44.25 126.87 L 92.18 139.87" fill="none" stroke="#111" stroke-width="0.94" /><path d="M 88.00 138.65 L 126.18 149.21" fill="none" stroke="#111" stroke-width="0.94" /><path d="M 15.00 123.62 L 154.81 161.15" fill="none" stroke="#111" stroke-width="0.94" /><path d="M 127.20 138.09 L 134.51 140.12 L 184.06 151.90" fill="none" stroke="#111" stroke-width="0.94" /><path d="M 134.51 140.12 L 134.51 150.28" fill="none" stroke="#111" stroke-width="0.94" /><path d="M 125.57 149.22 L 134.51 150.28 C 137.76 149.46 141.82 149.46 145.07 150.28 L 184.06 160.27" fill="none" stroke="#111" stroke-width="0.94" /><path d="M 145.88 138.09 L 148.72 135.25 L 163.75 138.50 C 167.00 139.31 166.60 141.91 163.75 141.42 L 147.10 137.85" fill="none" stroke="#111" stroke-width="1.06" /><path d="M 146.04 138.17 L 148.81 135.41" fill="none" stroke="#111" stroke-width="1.89" /><path d="M 149.13 136.47 L 164.16 139.80" fill="none" stroke="#111" stroke-width="0.71" /><path d="M 154.82 161.16 L 158.47 159.29 L 184.06 158.64" fill="none" stroke="#111" stroke-width="0.94" /><path d="M 156.44 160.75 C 157.66 159.13 159.69 159.13 160.91 160.35 L 159.69 163.60 M 159.69 162.38 L 184.06 162.38 M 158.47 159.29 L 159.69 162.38" fill="none" stroke="#111" stroke-width="1.53" /><path d="M15.00 129.50 L186.00 174.64" stroke="#141414" stroke-width="0.7" fill="none"/><path d="M15.00 132.40 L186.00 177.54" stroke="#141414" stroke-width="2.4" fill="none"/><path d="M15.00 134.80 L186.00 179.94" stroke="#333" stroke-width="0.6" fill="none"/><path d="M15.00 136.30 L186.00 181.44" stroke="#141414" stroke-width="1.4" fill="none"/><path d="M15.00 138.00 L186.00 183.14" stroke="#333" stroke-width="0.6" fill="none"/><path d="M15.00 139.30 L186.00 184.44" stroke="#444" stroke-width="0.55" fill="none"/><path d="M15.00 140.60 L186.00 185.74" stroke="#555" stroke-width="0.5" fill="none"/><path d="M15.00 141.80 L186.00 186.94" stroke="#666" stroke-width="0.45" fill="none"/></g><g transform="translate(502.70 97.10)"><ellipse cx="73.49" cy="125.28" rx="3.74" ry="4.55" fill="none" stroke="#111" stroke-width="1.59" transform="rotate(-12 73.49 125.28)"/><path d="M 70.65 124.22 L 76.74 125.84" fill="none" stroke="#111" stroke-width="1.06" /><ellipse cx="85.03" cy="127.47" rx="3.09" ry="3.25" fill="#ddd" stroke="#111" stroke-width="1.59"/><ellipse cx="84.86" cy="127.71" rx="1.46" ry="1.46" fill="#888" stroke="#333" stroke-width="1.18"/><ellipse cx="97.10" cy="129.74" rx="3.57" ry="3.74" fill="none" stroke="#111" stroke-width="1.59"/><path d="M 94.09 128.77 L 100.19 130.56 M 94.50 130.72 L 99.37 132.02" fill="none" stroke="#111" stroke-width="0.94" /></g><g transform="translate(502.70 97.10)"><path d="M 114.81 116.10 L 122.12 118.37 C 126.99 120.16 131.05 124.22 135.12 128.61 L 169.23 136.08" fill="none" stroke="#111" stroke-width="1.0" /><path d="M 127.16 138.27 L 135.12 128.61" fill="none" stroke="#111" stroke-width="1.0" /><path d="M 144.86 137.87 C 145.27 134.62 148.11 132.99 150.96 133.81 M 146.90 138.27 C 147.30 136.24 148.93 135.27 150.96 135.59" fill="none" stroke="#111" stroke-width="1.18" /></g><path d="M 581.60 213.37 L 601.76 202.34 L 611.17 200.73 L 619.24 199.92 L 628.38 210.68 L 626.63 214.31 L 617.22 219.28 L 612.78 223.31 L 592.35 216.32 Z" fill="#fff" stroke="none" stroke-width="0.0" /><path d="M 593.43 211.22 C 596.79 212.29 598.81 216.32 597.46 218.74" fill="none" stroke="#111" stroke-width="1.53" /><path d="M 597.06 210.27 C 600.42 211.75 602.44 216.73 601.09 219.68" fill="none" stroke="#111" stroke-width="1.53" /><path d="M 600.69 209.33 C 604.05 211.22 606.06 217.13 604.72 220.62" fill="none" stroke="#111" stroke-width="1.53" /><path d="M 604.32 208.39 C 607.68 210.68 609.69 217.53 608.35 221.56" fill="none" stroke="#111" stroke-width="1.53" /><path d="M 607.95 207.45 C 611.31 210.14 613.32 217.94 611.98 222.51" fill="none" stroke="#111" stroke-width="1.53" /><path d="M 611.58 206.51 C 614.94 209.60 616.95 218.34 615.61 223.45" fill="none" stroke="#111" stroke-width="1.53" /><path d="M 588.32 215.25 L 612.78 223.31" fill="none" stroke="#111" stroke-width="1.0" /><path d="M 581.60 213.37 L 601.76 202.34 L 611.17 200.73 L 608.75 204.90 L 588.32 215.25 Z" fill="#fff" stroke="#111" stroke-width="1.0" /><path d="M 584.02 213.10 L 603.38 202.88" fill="none" stroke="#111" stroke-width="0.83" /><path d="M 608.75 204.90 L 619.24 199.92 L 628.38 210.68 L 626.63 214.31 L 617.22 219.28 L 612.78 223.31 L 611.17 216.32 Z" fill="#fff" stroke="#111" stroke-width="1.0" /><path d="M 613.86 206.38 L 620.58 201.54 L 627.57 210.95 L 619.24 216.59 Z M 617.22 207.18 L 621.92 204.76 L 625.42 210.41 L 620.58 213.10 Z M 617.22 207.18 L 625.42 210.41 M 621.92 204.76 L 620.58 213.10" fill="none" stroke="#111" stroke-width="1.06" /><path d="M 608.75 204.90 L 613.86 206.38 L 619.24 216.59 L 617.22 219.28" fill="none" stroke="#111" stroke-width="1.0" /><path d="M 590.74 233.12 C 589.94 229.76 594.37 227.75 597.06 230.03 C 598.81 231.78 598.00 235.14 595.72 236.22 L 591.68 239.17 L 588.32 236.48 Z" fill="#fff" stroke="#111" stroke-width="1.0" /><path d="M 590.74 233.12 C 591.68 235.81 594.37 236.75 596.12 235.81" fill="none" stroke="#111" stroke-width="0.94" /><path d="M 570.68 248.67 C 569.67 245.22 574.75 240.54 578.81 238.51 L 616.62 247.86 L 616.62 254.37 L 608.89 262.90 L 605.24 262.90 L 573.73 254.37 C 571.09 252.74 570.68 250.71 570.68 248.67 Z" fill="#fff" stroke="#111" stroke-width="1.0" /><path d="M 573.12 247.25 L 608.89 255.99 L 616.62 248.27 M 608.89 255.99 L 608.49 262.90 M 573.12 247.25 C 571.70 248.67 571.29 250.71 571.90 252.33" fill="none" stroke="#111" stroke-width="1.0" /><path d="M 616.62 247.46 L 653.00 260.46 L 653.00 276.72 L 608.49 264.12 L 616.62 254.37 Z" fill="#fff" stroke="none" stroke-width="0.0" /><path d="M 617.02 248.27 L 653.00 261.28 M 612.55 257.21 L 653.00 266.97 M 611.54 261.28 L 653.00 271.64 M 611.13 262.70 L 653.00 273.27" fill="none" stroke="#111" stroke-width="0.94" /><polygon points="604.59,182.23 610.99,192.84 608.43,194.39 615.60,196.60 616.99,189.22 614.42,190.77 608.01,180.17" fill="#151515" stroke="#151515" stroke-width="0.3"/><polygon points="559.07,272.34 568.26,263.02 570.61,265.33 570.90,257.20 562.77,257.61 565.12,259.93 555.93,269.26" fill="#151515" stroke="#151515" stroke-width="0.3"/></g>
<g clip-path="url(#cP3)"><g transform="translate(624.10 103.90)"><path d="M 15.00 93.68 L 48.71 101.72 L 52.37 104.97 C 54.40 106.19 56.43 102.77 62.93 102.53 L 92.18 110.25" fill="none" stroke="#111" stroke-width="1.0" /><path d="M 88.00 109.03 L 114.81 116.10" fill="none" stroke="#111" stroke-width="1.0" /><path d="M 15.00 103.59 L 42.62 111.47 L 44.65 114.31 M 42.62 111.47 L 49.28 102.12 M 44.65 114.31 L 52.21 105.13" fill="none" stroke="#111" stroke-width="0.89" /><path d="M 15.00 98.71 L 32.47 101.31 L 34.09 102.12 L 30.84 104.56 L 15.00 101.96 M 15.00 99.69 L 32.06 102.29" fill="none" stroke="#111" stroke-width="0.83" /><path d="M 15.00 98.87 L 32.47 101.39" fill="none" stroke="#111" stroke-width="1.42" /><path d="M 44.65 114.31 C 47.50 114.15 49.93 112.36 53.18 111.87 C 56.03 111.55 57.65 112.36 59.28 112.85 L 92.18 122.43" fill="none" stroke="#111" stroke-width="1.0" /><path d="M 88.00 121.21 L 108.31 125.84 L 114.00 128.52 C 118.06 129.34 122.52 132.18 127.16 138.27" fill="none" stroke="#111" stroke-width="1.0" /><path d="M 35.55 112.03 L 35.55 123.24 M 35.55 123.24 C 32.87 122.03 29.62 120.16 26.78 118.78 L 15.00 113.33" fill="none" stroke="#111" stroke-width="0.89" /><path d="M 15.00 121.21 L 24.75 125.84 L 25.97 128.12 L 15.00 124.87 Z" fill="#333" stroke="#111" stroke-width="0.71" /><path d="M 35.55 123.22 C 38.56 124.84 41.00 126.06 44.25 126.87 L 92.18 139.87" fill="none" stroke="#111" stroke-width="0.94" /><path d="M 88.00 138.65 L 126.18 149.21" fill="none" stroke="#111" stroke-width="0.94" /><path d="M 15.00 123.62 L 154.81 161.15" fill="none" stroke="#111" stroke-width="0.94" /><path d="M 127.20 138.09 L 134.51 140.12 L 184.06 151.90" fill="none" stroke="#111" stroke-width="0.94" /><path d="M 134.51 140.12 L 134.51 150.28" fill="none" stroke="#111" stroke-width="0.94" /><path d="M 125.57 149.22 L 134.51 150.28 C 137.76 149.46 141.82 149.46 145.07 150.28 L 184.06 160.27" fill="none" stroke="#111" stroke-width="0.94" /><path d="M 145.88 138.09 L 148.72 135.25 L 163.75 138.50 C 167.00 139.31 166.60 141.91 163.75 141.42 L 147.10 137.85" fill="none" stroke="#111" stroke-width="1.06" /><path d="M 146.04 138.17 L 148.81 135.41" fill="none" stroke="#111" stroke-width="1.89" /><path d="M 149.13 136.47 L 164.16 139.80" fill="none" stroke="#111" stroke-width="0.71" /><path d="M 154.82 161.16 L 158.47 159.29 L 184.06 158.64" fill="none" stroke="#111" stroke-width="0.94" /><path d="M 156.44 160.75 C 157.66 159.13 159.69 159.13 160.91 160.35 L 159.69 163.60 M 159.69 162.38 L 184.06 162.38 M 158.47 159.29 L 159.69 162.38" fill="none" stroke="#111" stroke-width="1.53" /><path d="M15.00 129.50 L186.00 174.64" stroke="#141414" stroke-width="0.7" fill="none"/><path d="M15.00 132.40 L186.00 177.54" stroke="#141414" stroke-width="2.4" fill="none"/><path d="M15.00 134.80 L186.00 179.94" stroke="#333" stroke-width="0.6" fill="none"/><path d="M15.00 136.30 L186.00 181.44" stroke="#141414" stroke-width="1.4" fill="none"/><path d="M15.00 138.00 L186.00 183.14" stroke="#333" stroke-width="0.6" fill="none"/><path d="M15.00 139.30 L186.00 184.44" stroke="#444" stroke-width="0.55" fill="none"/><path d="M15.00 140.60 L186.00 185.74" stroke="#555" stroke-width="0.5" fill="none"/><path d="M15.00 141.80 L186.00 186.94" stroke="#666" stroke-width="0.45" fill="none"/></g><g transform="translate(624.10 103.90)"><ellipse cx="73.49" cy="125.28" rx="3.74" ry="4.55" fill="none" stroke="#111" stroke-width="1.59" transform="rotate(-12 73.49 125.28)"/><path d="M 70.65 124.22 L 76.74 125.84" fill="none" stroke="#111" stroke-width="1.06" /><ellipse cx="85.03" cy="127.47" rx="3.09" ry="3.25" fill="#ddd" stroke="#111" stroke-width="1.59"/><ellipse cx="84.86" cy="127.71" rx="1.46" ry="1.46" fill="#888" stroke="#333" stroke-width="1.18"/><ellipse cx="97.10" cy="129.74" rx="3.57" ry="3.74" fill="none" stroke="#111" stroke-width="1.59"/><path d="M 94.09 128.77 L 100.19 130.56 M 94.50 130.72 L 99.37 132.02" fill="none" stroke="#111" stroke-width="0.94" /></g><g transform="translate(624.10 103.90)"><path d="M 114.81 116.10 L 122.12 118.37 C 126.99 120.16 131.05 124.22 135.12 128.61 L 169.23 136.08" fill="none" stroke="#111" stroke-width="1.0" /><path d="M 127.16 138.27 L 135.12 128.61" fill="none" stroke="#111" stroke-width="1.0" /><path d="M 144.86 137.87 C 145.27 134.62 148.11 132.99 150.96 133.81 M 146.90 138.27 C 147.30 136.24 148.93 135.27 150.96 135.59" fill="none" stroke="#111" stroke-width="1.18" /></g><circle cx="721.2" cy="233.8" r="5.2" fill="#fff"/><path d="M 700.24 218.58 L 704.68 213.74 C 708.31 212.13 713.01 212.40 716.37 213.20 L 734.52 218.85 C 739.89 221.54 741.91 224.90 743.25 227.59 L 751.99 232.96 L 750.65 236.32 L 733.17 231.22 L 710.32 222.88 Z" fill="#fff" stroke="#111" stroke-width="1.0" /><path d="M 708.31 217.51 C 710.32 215.89 713.01 215.89 715.70 216.83 L 729.14 221.54 C 733.17 223.55 735.86 226.24 737.20 228.93" fill="none" stroke="#111" stroke-width="1.0" /><path d="M 700.24 218.58 L 710.32 222.88 M 710.32 218.18 L 726.45 223.55 L 733.17 229.60 M 714.35 219.52 L 716.37 221.54 M 721.08 221.54 L 723.76 224.90 M 727.80 223.55 C 730.48 222.88 733.17 224.90 732.90 227.59" fill="none" stroke="#111" stroke-width="1.18" /><ellipse cx="730.22" cy="225.84" rx="2.96" ry="1.61" fill="#666" stroke="#111" stroke-width="1.18" transform="rotate(25 730.22 225.84)"/><path d="M 743.25 227.59 L 745.27 234.98 M 748.63 231.22 L 749.30 235.65" fill="none" stroke="#111" stroke-width="0.94" /><path d="M 706.29 238.34 C 706.02 234.98 713.01 231.22 717.04 230.68 L 752.66 241.43 L 754.14 246.40 L 747.96 255.14 L 743.25 255.41 L 713.01 248.15 C 708.98 246.40 706.56 242.37 706.29 238.34 Z" fill="#fff" stroke="#111" stroke-width="1.0" /><path d="M 708.98 241.16 C 710.32 239.68 713.01 238.74 715.70 239.28 L 745.27 249.09 L 751.18 243.04 M 745.27 249.09 L 744.19 255.14" fill="none" stroke="#111" stroke-width="1.0" /><path d="M 752.66 243.04 L 774.03 248.69 M 749.30 253.12 L 774.03 259.17" fill="none" stroke="#111" stroke-width="1.0" /><polygon points="765.11,202.00 754.80,205.10 759.31,213.03 749.24,209.48 745.30,217.60 741.36,209.48 731.29,213.03 735.80,205.10 725.49,202.00 735.80,198.90 731.29,190.97 741.36,194.52 745.30,186.40 749.24,194.52 759.31,190.97 754.80,198.90" fill="#0e0e0e" stroke="#0e0e0e" stroke-width="0.6"/><text x="745.30" y="204.90" text-anchor="middle" class="clk" fill="#fff" font-size="9.5" textLength="16.8" lengthAdjust="spacingAndGlyphs">click</text></g>
<g clip-path="url(#cQ1)"><g transform="translate(2.20 303.60)"><path d="M 15.00 93.68 L 48.71 101.72 L 52.37 104.97 C 54.40 106.19 56.43 102.77 62.93 102.53 L 92.18 110.25" fill="none" stroke="#111" stroke-width="1.0" /><path d="M 88.00 109.03 L 114.81 116.10" fill="none" stroke="#111" stroke-width="1.0" /><path d="M 15.00 103.59 L 42.62 111.47 L 44.65 114.31 M 42.62 111.47 L 49.28 102.12 M 44.65 114.31 L 52.21 105.13" fill="none" stroke="#111" stroke-width="0.89" /><path d="M 15.00 98.71 L 32.47 101.31 L 34.09 102.12 L 30.84 104.56 L 15.00 101.96 M 15.00 99.69 L 32.06 102.29" fill="none" stroke="#111" stroke-width="0.83" /><path d="M 15.00 98.87 L 32.47 101.39" fill="none" stroke="#111" stroke-width="1.42" /><path d="M 44.65 114.31 C 47.50 114.15 49.93 112.36 53.18 111.87 C 56.03 111.55 57.65 112.36 59.28 112.85 L 92.18 122.43" fill="none" stroke="#111" stroke-width="1.0" /><path d="M 88.00 121.21 L 108.31 125.84 L 114.00 128.52 C 118.06 129.34 122.52 132.18 127.16 138.27" fill="none" stroke="#111" stroke-width="1.0" /><path d="M 35.55 112.03 L 35.55 123.24 M 35.55 123.24 C 32.87 122.03 29.62 120.16 26.78 118.78 L 15.00 113.33" fill="none" stroke="#111" stroke-width="0.89" /><path d="M 15.00 121.21 L 24.75 125.84 L 25.97 128.12 L 15.00 124.87 Z" fill="#333" stroke="#111" stroke-width="0.71" /><path d="M 35.55 123.22 C 38.56 124.84 41.00 126.06 44.25 126.87 L 92.18 139.87" fill="none" stroke="#111" stroke-width="0.94" /><path d="M 88.00 138.65 L 126.18 149.21" fill="none" stroke="#111" stroke-width="0.94" /><path d="M 15.00 123.62 L 154.81 161.15" fill="none" stroke="#111" stroke-width="0.94" /><path d="M 127.20 138.09 L 134.51 140.12 L 184.06 151.90" fill="none" stroke="#111" stroke-width="0.94" /><path d="M 134.51 140.12 L 134.51 150.28" fill="none" stroke="#111" stroke-width="0.94" /><path d="M 125.57 149.22 L 134.51 150.28 C 137.76 149.46 141.82 149.46 145.07 150.28 L 184.06 160.27" fill="none" stroke="#111" stroke-width="0.94" /><path d="M 145.88 138.09 L 148.72 135.25 L 163.75 138.50 C 167.00 139.31 166.60 141.91 163.75 141.42 L 147.10 137.85" fill="none" stroke="#111" stroke-width="1.06" /><path d="M 146.04 138.17 L 148.81 135.41" fill="none" stroke="#111" stroke-width="1.89" /><path d="M 149.13 136.47 L 164.16 139.80" fill="none" stroke="#111" stroke-width="0.71" /><path d="M 154.82 161.16 L 158.47 159.29 L 184.06 158.64" fill="none" stroke="#111" stroke-width="0.94" /><path d="M 156.44 160.75 C 157.66 159.13 159.69 159.13 160.91 160.35 L 159.69 163.60 M 159.69 162.38 L 184.06 162.38 M 158.47 159.29 L 159.69 162.38" fill="none" stroke="#111" stroke-width="1.53" /><path d="M15.00 129.50 L186.00 174.64" stroke="#141414" stroke-width="0.7" fill="none"/><path d="M15.00 132.40 L186.00 177.54" stroke="#141414" stroke-width="2.4" fill="none"/><path d="M15.00 134.80 L186.00 179.94" stroke="#333" stroke-width="0.6" fill="none"/><path d="M15.00 136.30 L186.00 181.44" stroke="#141414" stroke-width="1.4" fill="none"/><path d="M15.00 138.00 L186.00 183.14" stroke="#333" stroke-width="0.6" fill="none"/><path d="M15.00 139.30 L186.00 184.44" stroke="#444" stroke-width="0.55" fill="none"/><path d="M15.00 140.60 L186.00 185.74" stroke="#555" stroke-width="0.5" fill="none"/><path d="M15.00 141.80 L186.00 186.94" stroke="#666" stroke-width="0.45" fill="none"/></g><g transform="translate(2.20 303.60)"><ellipse cx="73.49" cy="125.28" rx="3.74" ry="4.55" fill="none" stroke="#111" stroke-width="1.59" transform="rotate(-12 73.49 125.28)"/><path d="M 70.65 124.22 L 76.74 125.84" fill="none" stroke="#111" stroke-width="1.06" /><ellipse cx="85.03" cy="127.47" rx="3.09" ry="3.25" fill="#ddd" stroke="#111" stroke-width="1.59"/><ellipse cx="84.86" cy="127.71" rx="1.46" ry="1.46" fill="#888" stroke="#333" stroke-width="1.18"/><ellipse cx="97.10" cy="129.74" rx="3.57" ry="3.74" fill="none" stroke="#111" stroke-width="1.59"/><path d="M 94.09 128.77 L 100.19 130.56 M 94.50 130.72 L 99.37 132.02" fill="none" stroke="#111" stroke-width="0.94" /></g><g transform="translate(2.20 303.60)"><path d="M 114.81 116.10 L 122.12 118.37 C 126.99 120.16 131.05 124.22 135.12 128.61 L 169.23 136.08" fill="none" stroke="#111" stroke-width="1.0" /><path d="M 127.16 138.27 L 135.12 128.61" fill="none" stroke="#111" stroke-width="1.0" /><path d="M 144.86 137.87 C 145.27 134.62 148.11 132.99 150.96 133.81 M 146.90 138.27 C 147.30 136.24 148.93 135.27 150.96 135.59" fill="none" stroke="#111" stroke-width="1.18" /></g><g transform="translate(2.20 303.60)"><path d="M 78.77 117.56 C 77.55 113.50 81.61 111.47 85.27 113.09 C 87.71 114.31 88.11 117.56 86.90 120.40" fill="none" stroke="#111" stroke-width="1.06" /><path d="M 81.21 118.37 C 80.80 115.12 84.05 114.31 86.08 116.34" fill="none" stroke="#111" stroke-width="0.71" /><path d="M 88.41 121.62 C 88.81 117.15 92.87 114.71 95.72 117.15 C 97.34 118.78 96.94 121.62 95.72 123.08" fill="none" stroke="#111" stroke-width="1.06" /><path d="M 102.62 124.87 C 101.40 120.81 105.06 117.96 108.31 119.59 C 110.75 121.21 109.93 124.46 108.31 125.84" fill="none" stroke="#111" stroke-width="1.06" /><path d="M 104.25 124.71 C 103.84 122.03 106.28 120.40 108.31 121.62" fill="none" stroke="#111" stroke-width="0.71" /></g><path d="M 60.06 385.52 C 59.39 379.47 64.10 376.52 66.78 375.44 L 72.16 370.06 L 82.91 369.39 L 105.76 376.78 L 115.17 384.18 L 127.27 392.24 L 129.28 395.60 L 127.94 402.32 L 124.58 406.62 L 119.20 412.00 L 104.42 406.62 L 102.00 395.60 L 98.37 396.68 L 92.32 399.63 L 85.60 391.84 L 80.90 391.30 L 74.18 398.02 L 69.47 398.56 L 61.41 394.26 Z" fill="#fff" stroke="none" stroke-width="0.0" /><path d="M 66.78 375.44 L 72.16 370.33 C 75.52 368.72 80.23 368.99 83.59 369.53 L 105.76 376.78 C 111.14 379.47 113.16 382.16 115.17 384.18 L 127.27 392.24 L 129.28 395.60" fill="none" stroke="#111" stroke-width="1.0" /><path d="M 72.16 375.44 C 74.85 373.83 77.54 374.10 79.55 375.17 L 103.08 382.16 C 107.78 384.18 110.47 385.92 112.48 387.81" fill="none" stroke="#111" stroke-width="0.94" /><path d="M 66.78 375.44 L 72.16 375.44 M 78.88 375.44 L 77.54 379.20 L 101.73 386.87" fill="none" stroke="#111" stroke-width="0.94" /><path d="M 60.06 385.52 C 59.39 379.47 64.10 376.52 70.15 377.05 C 74.18 377.46 76.87 380.15 77.54 383.51 M 60.06 385.52 C 60.06 390.90 61.41 394.26 65.44 396.41 L 69.47 398.56 C 72.16 398.96 74.18 398.02 73.77 395.60" fill="none" stroke="#111" stroke-width="1.0" /><path d="M 62.54 393.25 L 61.68 391.73 L 61.09 390.10 L 60.78 388.44 L 60.76 386.74 L 61.06 385.06 L 61.62 383.44 L 62.48 381.91 L 63.59 380.51 L 64.93 379.24 L 66.46 378.18" fill="none" stroke="#111" stroke-width="1.59" /><path d="M 66.14 393.26 L 65.05 391.92 L 64.26 390.44 L 63.81 388.85 L 63.69 387.23 L 63.94 385.62 L 64.53 384.06 L 65.44 382.62 L 66.64 381.34 L 68.09 380.28 L 69.74 379.46" fill="none" stroke="#111" stroke-width="1.59" /><path d="M 69.94 392.69 L 68.68 391.74 L 67.71 390.59 L 67.07 389.27 L 66.80 387.86 L 66.89 386.45 L 67.38 385.08 L 68.20 383.84 L 69.33 382.79 L 70.71 381.99 L 72.27 381.46" fill="none" stroke="#111" stroke-width="1.59" /><path d="M 73.42 391.14 L 72.23 390.79 L 71.19 390.17 L 70.41 389.31 L 69.97 388.30 L 69.89 387.22 L 70.19 386.17 L 70.83 385.24 L 71.77 384.51 L 72.91 384.04 L 74.18 383.88" fill="none" stroke="#111" stroke-width="1.59" /><path d="M 73.77 395.60 C 70.82 393.59 72.16 387.54 75.52 386.19 M 76.87 386.87 L 80.90 390.90" fill="none" stroke="#111" stroke-width="1.3" /><path d="M 80.90 391.30 C 79.55 384.85 84.93 381.49 90.31 382.43 C 95.68 383.51 98.37 388.88 98.37 396.68 L 92.32 399.63 C 93.67 394.26 92.32 388.88 89.37 387.81 C 86.27 387.54 84.93 389.55 85.60 391.84 Z" fill="#fff" stroke="#111" stroke-width="1.0" /><path d="M 83.18 390.23 C 82.91 386.19 86.27 384.58 89.90 385.12 C 93.94 386.19 95.68 390.90 95.28 397.22" fill="none" stroke="#111" stroke-width="1.3" /><path d="M 85.60 391.84 C 87.22 392.65 88.56 392.38 89.37 390.90 M 92.32 399.63 C 94.34 400.31 97.03 398.96 98.37 396.68" fill="none" stroke="#111" stroke-width="1.06" /><path d="M 76.19 385.52 C 78.21 382.16 82.24 380.15 86.95 380.15 M 92.32 382.16 L 100.39 384.85" fill="none" stroke="#111" stroke-width="0.94" /><path d="M 102.00 392.91 C 103.08 398.29 103.75 402.99 104.42 406.62 L 119.20 412.00 C 122.56 408.37 123.91 405.01 123.24 400.98" fill="none" stroke="#111" stroke-width="1.0" /><path d="M 100.39 386.19 L 115.17 390.90 L 121.89 399.63" fill="none" stroke="#111" stroke-width="1.0" /><path d="M 103.61 390.90 C 107.11 396.27 107.91 402.99 106.30 407.70" fill="none" stroke="#111" stroke-width="1.59" /><path d="M 107.38 391.97 C 110.87 397.08 111.68 403.67 110.06 408.77" fill="none" stroke="#111" stroke-width="1.59" /><path d="M 111.14 393.05 C 114.63 397.89 115.44 404.34 113.83 409.85" fill="none" stroke="#111" stroke-width="1.59" /><path d="M 114.90 394.12 C 118.40 398.69 119.20 405.01 117.59 410.92" fill="none" stroke="#111" stroke-width="1.59" /><path d="M 118.67 395.20 C 122.16 399.50 122.97 405.68 121.35 412.00" fill="none" stroke="#111" stroke-width="1.59" /><path d="M 113.83 387.54 L 126.60 392.24 L 128.88 395.60 L 128.08 402.32 L 124.58 406.62 L 121.89 399.63 Z" fill="#fff" stroke="#111" stroke-width="1.0" /><path d="M 121.89 399.63 L 128.88 395.60 M 124.58 406.62 L 125.25 400.98" fill="none" stroke="#111" stroke-width="1.0" /><ellipse cx="119.88" cy="391.57" rx="2.69" ry="1.61" fill="none" stroke="#111" stroke-width="1.06" transform="rotate(20 119.88 391.57)"/><polygon points="96.90,401.70 96.90,410.00 94.60,410.00 98.40,414.60 102.20,410.00 99.90,410.00 99.90,401.70" fill="#151515" stroke="#151515" stroke-width="0.3"/><polygon points="148.36,414.40 142.04,416.31 144.85,421.33 138.73,419.02 136.40,424.20 134.07,419.02 127.95,421.33 130.76,416.31 124.44,414.40 130.76,412.49 127.95,407.47 134.07,409.78 136.40,404.60 138.73,409.78 144.85,407.47 142.04,412.49" fill="#0e0e0e" stroke="#0e0e0e" stroke-width="0.6"/><text x="136.40" y="416.20" text-anchor="middle" class="clk" fill="#ddd" font-size="5.6" textLength="10.0" lengthAdjust="spacingAndGlyphs">click</text></g>
<g clip-path="url(#cQ2)"><g transform="translate(6.30 419.60)"><path d="M 15.00 93.68 L 48.71 101.72 L 52.37 104.97 C 54.40 106.19 56.43 102.77 62.93 102.53 L 92.18 110.25" fill="none" stroke="#111" stroke-width="1.0" /><path d="M 88.00 109.03 L 114.81 116.10" fill="none" stroke="#111" stroke-width="1.0" /><path d="M 15.00 103.59 L 42.62 111.47 L 44.65 114.31 M 42.62 111.47 L 49.28 102.12 M 44.65 114.31 L 52.21 105.13" fill="none" stroke="#111" stroke-width="0.89" /><path d="M 15.00 98.71 L 32.47 101.31 L 34.09 102.12 L 30.84 104.56 L 15.00 101.96 M 15.00 99.69 L 32.06 102.29" fill="none" stroke="#111" stroke-width="0.83" /><path d="M 15.00 98.87 L 32.47 101.39" fill="none" stroke="#111" stroke-width="1.42" /><path d="M 44.65 114.31 C 47.50 114.15 49.93 112.36 53.18 111.87 C 56.03 111.55 57.65 112.36 59.28 112.85 L 92.18 122.43" fill="none" stroke="#111" stroke-width="1.0" /><path d="M 88.00 121.21 L 108.31 125.84 L 114.00 128.52 C 118.06 129.34 122.52 132.18 127.16 138.27" fill="none" stroke="#111" stroke-width="1.0" /><path d="M 35.55 112.03 L 35.55 123.24 M 35.55 123.24 C 32.87 122.03 29.62 120.16 26.78 118.78 L 15.00 113.33" fill="none" stroke="#111" stroke-width="0.89" /><path d="M 15.00 121.21 L 24.75 125.84 L 25.97 128.12 L 15.00 124.87 Z" fill="#333" stroke="#111" stroke-width="0.71" /><path d="M 35.55 123.22 C 38.56 124.84 41.00 126.06 44.25 126.87 L 92.18 139.87" fill="none" stroke="#111" stroke-width="0.94" /><path d="M 88.00 138.65 L 126.18 149.21" fill="none" stroke="#111" stroke-width="0.94" /><path d="M 15.00 123.62 L 154.81 161.15" fill="none" stroke="#111" stroke-width="0.94" /><path d="M 127.20 138.09 L 134.51 140.12 L 184.06 151.90" fill="none" stroke="#111" stroke-width="0.94" /><path d="M 134.51 140.12 L 134.51 150.28" fill="none" stroke="#111" stroke-width="0.94" /><path d="M 125.57 149.22 L 134.51 150.28 C 137.76 149.46 141.82 149.46 145.07 150.28 L 184.06 160.27" fill="none" stroke="#111" stroke-width="0.94" /><path d="M 145.88 138.09 L 148.72 135.25 L 163.75 138.50 C 167.00 139.31 166.60 141.91 163.75 141.42 L 147.10 137.85" fill="none" stroke="#111" stroke-width="1.06" /><path d="M 146.04 138.17 L 148.81 135.41" fill="none" stroke="#111" stroke-width="1.89" /><path d="M 149.13 136.47 L 164.16 139.80" fill="none" stroke="#111" stroke-width="0.71" /><path d="M 154.82 161.16 L 158.47 159.29 L 184.06 158.64" fill="none" stroke="#111" stroke-width="0.94" /><path d="M 156.44 160.75 C 157.66 159.13 159.69 159.13 160.91 160.35 L 159.69 163.60 M 159.69 162.38 L 184.06 162.38 M 158.47 159.29 L 159.69 162.38" fill="none" stroke="#111" stroke-width="1.53" /><path d="M15.00 129.50 L186.00 174.64" stroke="#141414" stroke-width="0.7" fill="none"/><path d="M15.00 132.40 L186.00 177.54" stroke="#141414" stroke-width="2.4" fill="none"/><path d="M15.00 134.80 L186.00 179.94" stroke="#333" stroke-width="0.6" fill="none"/><path d="M15.00 136.30 L186.00 181.44" stroke="#141414" stroke-width="1.4" fill="none"/><path d="M15.00 138.00 L186.00 183.14" stroke="#333" stroke-width="0.6" fill="none"/><path d="M15.00 139.30 L186.00 184.44" stroke="#444" stroke-width="0.55" fill="none"/><path d="M15.00 140.60 L186.00 185.74" stroke="#555" stroke-width="0.5" fill="none"/><path d="M15.00 141.80 L186.00 186.94" stroke="#666" stroke-width="0.45" fill="none"/></g><g transform="translate(6.30 419.60)"><ellipse cx="73.49" cy="125.28" rx="3.74" ry="4.55" fill="none" stroke="#111" stroke-width="1.59" transform="rotate(-12 73.49 125.28)"/><path d="M 70.65 124.22 L 76.74 125.84" fill="none" stroke="#111" stroke-width="1.06" /><ellipse cx="85.03" cy="127.47" rx="3.09" ry="3.25" fill="#ddd" stroke="#111" stroke-width="1.59"/><ellipse cx="84.86" cy="127.71" rx="1.46" ry="1.46" fill="#888" stroke="#333" stroke-width="1.18"/><ellipse cx="97.10" cy="129.74" rx="3.57" ry="3.74" fill="none" stroke="#111" stroke-width="1.59"/><path d="M 94.09 128.77 L 100.19 130.56 M 94.50 130.72 L 99.37 132.02" fill="none" stroke="#111" stroke-width="0.94" /></g><g transform="translate(6.30 419.60)"><path d="M 114.81 116.10 L 122.12 118.37 C 126.99 120.16 131.05 124.22 135.12 128.61 L 169.23 136.08" fill="none" stroke="#111" stroke-width="1.0" /><path d="M 127.16 138.27 L 135.12 128.61" fill="none" stroke="#111" stroke-width="1.0" /><path d="M 144.86 137.87 C 145.27 134.62 148.11 132.99 150.96 133.81 M 146.90 138.27 C 147.30 136.24 148.93 135.27 150.96 135.59" fill="none" stroke="#111" stroke-width="1.18" /></g><path d="M 63.94 532.22 C 62.28 525.60 67.25 521.46 73.87 521.13 L 75.53 516.49 L 84.64 514.83 C 92.91 519.80 99.54 528.08 116.09 544.64 L 116.09 547.12 L 84.64 539.67 L 79.67 533.38 L 65.60 533.38 Z" fill="#fff" stroke="none" stroke-width="0.0" /><path d="M 73.39 534.74 L 73.43 533.79 L 73.68 532.88 L 74.16 532.05 L 74.83 531.34 L 75.66 530.78 L 76.62 530.40 L 77.65 530.22 L 78.69 530.25 L 79.69 530.48 L 80.61 530.91 L 81.41 531.52 L 82.02 532.28" fill="none" stroke="#111" stroke-width="1.42" /><path d="M 70.10 535.00 L 70.15 533.38 L 70.58 531.82 L 71.41 530.40 L 72.57 529.17 L 73.99 528.20 L 75.63 527.55 L 77.38 527.24 L 79.17 527.30 L 80.89 527.70 L 82.48 528.46 L 83.84 529.50 L 84.90 530.79" fill="none" stroke="#111" stroke-width="1.42" /><path d="M 66.80 535.25 L 66.85 532.98 L 67.48 530.76 L 68.66 528.74 L 70.28 527.00 L 72.32 525.63 L 74.64 524.70 L 77.12 524.27 L 79.65 524.34 L 82.09 524.93 L 84.34 525.99 L 86.26 527.47 L 87.76 529.30" fill="none" stroke="#111" stroke-width="1.42" /><path d="M 63.49 535.51 L 63.58 532.57 L 64.40 529.70 L 65.89 527.09 L 68.01 524.83 L 70.63 523.06 L 73.63 521.87 L 76.85 521.31 L 80.13 521.39 L 83.29 522.15 L 86.19 523.53 L 88.68 525.45 L 90.63 527.81" fill="none" stroke="#111" stroke-width="1.42" /><path d="M 73.38 521.46 C 72.72 517.32 76.03 514.50 80.00 514.50 C 87.95 514.83 97.88 525.60 117.42 545.96" fill="none" stroke="#111" stroke-width="1.3" /><path d="M 79.67 519.14 C 86.29 520.13 95.40 529.40 109.14 543.31 M 82.65 523.94 C 88.77 525.60 96.23 532.22 103.84 542.65 M 73.38 521.46 C 75.53 522.28 78.01 521.13 79.67 519.14 M 86.29 516.49 C 92.91 520.63 101.19 529.74 113.61 543.81" fill="none" stroke="#111" stroke-width="1.12" /><ellipse cx="77.68" cy="517.81" rx="1.82" ry="1.49" fill="none" stroke="#111" stroke-width="1.06"/><path d="M 63.94 533.38 L 79.67 533.38 L 135.96 548.28 L 139.27 554.90 L 122.72 562.85 L 68.91 548.28 L 63.94 539.67 Z" fill="#fff" stroke="none" stroke-width="0.0" /><path d="M 63.94 533.38 C 68.08 531.39 73.05 531.72 78.01 533.38 L 120.23 544.64 C 126.03 547.12 129.34 550.43 133.48 554.90" fill="none" stroke="#111" stroke-width="1.0" /><ellipse cx="91.26" cy="545.96" rx="3.15" ry="3.31" fill="none" stroke="#111" stroke-width="1.18"/><ellipse cx="91.26" cy="546.29" rx="1.49" ry="1.49" fill="#555" stroke="#111" stroke-width="0.94"/><ellipse cx="102.85" cy="548.28" rx="3.31" ry="3.48" fill="none" stroke="#111" stroke-width="1.18"/><path d="M 100.36 547.62 L 105.33 549.27" fill="none" stroke="#111" stroke-width="0.83" /><path d="M 98.71 559.87 C 100.36 567.81 107.81 573.61 116.92 574.44 L 124.04 564.83 Z" fill="#fff" stroke="none" stroke-width="0.0" /><path d="M 116.84 563.15 L 115.81 562.98 L 114.83 562.65 L 113.91 562.17 L 113.08 561.56 L 112.35 560.81 L 111.74 559.97 L 111.27 559.04 L 110.96 558.05 L 110.81 557.02 L 110.83 555.98" fill="none" stroke="#111" stroke-width="1.53" /><path d="M 116.52 566.79 L 114.93 566.52 L 113.41 566.01 L 111.97 565.26 L 110.68 564.30 L 109.55 563.16 L 108.63 561.84 L 107.90 560.40 L 107.42 558.86 L 107.19 557.27 L 107.19 555.66" fill="none" stroke="#111" stroke-width="1.53" /><path d="M 116.21 570.41 L 114.06 570.05 L 111.99 569.35 L 110.05 568.34 L 108.29 567.05 L 106.77 565.50 L 105.50 563.73 L 104.52 561.77 L 103.87 559.69 L 103.54 557.53 L 103.56 555.35" fill="none" stroke="#111" stroke-width="1.53" /><path d="M 115.89 574.04 L 113.18 573.59 L 110.56 572.72 L 108.11 571.44 L 105.91 569.80 L 103.97 567.83 L 102.37 565.60 L 101.14 563.13 L 100.31 560.50 L 99.92 557.78 L 99.93 555.03" fill="none" stroke="#111" stroke-width="1.53" /><path d="M 116.92 574.44 L 124.04 564.83" fill="none" stroke="#111" stroke-width="1.0" /><path d="M 75.53 541.32 C 75.53 538.01 80.50 536.36 83.31 539.34 C 85.46 542.15 83.81 545.96 81.32 547.12 L 73.38 555.40 L 67.25 552.58 Z" fill="#fff" stroke="#111" stroke-width="1.0" /><path d="M 76.03 542.65 C 77.19 545.96 80.50 547.12 82.65 545.96 M 69.74 550.43 L 75.53 553.74" fill="none" stroke="#111" stroke-width="1.0" /><path d="M 45.73 569.14 C 44.57 565.33 49.87 559.54 55.17 556.23 L 93.25 567.48 L 93.74 572.78 L 87.12 581.39 L 79.67 582.72 L 51.52 576.09 C 48.21 574.44 46.23 571.95 45.73 569.14 Z" fill="#fff" stroke="#111" stroke-width="1.0" /><path d="M 48.54 566.49 C 50.70 564.50 53.18 563.84 56.49 564.50 L 85.46 573.61 L 93.25 567.81 M 85.46 573.61 L 86.29 581.39" fill="none" stroke="#111" stroke-width="1.0" /><path d="M 87.12 580.73 L 155.83 597.62 L 155.83 588.68 L 88.28 576.09 Z" fill="#fff" stroke="none" stroke-width="0.0" /><path d="M 93.74 570.30 L 155.83 586.03 M 87.95 580.23 L 155.83 596.79" fill="none" stroke="#111" stroke-width="1.0" /><polygon points="84.34,494.84 80.35,505.60 77.54,504.56 80.40,511.80 87.29,508.17 84.48,507.13 88.46,496.36" fill="#151515" stroke="#151515" stroke-width="0.3"/><polygon points="36.52,592.79 44.77,584.93 47.05,587.32 47.60,579.20 39.46,579.36 41.74,581.74 33.48,589.61" fill="#151515" stroke="#151515" stroke-width="0.3"/></g>
<g clip-path="url(#cQ3)"><g transform="translate(132.60 421.20)"><path d="M 15.00 93.68 L 48.71 101.72 L 52.37 104.97 C 54.40 106.19 56.43 102.77 62.93 102.53 L 92.18 110.25" fill="none" stroke="#111" stroke-width="1.0" /><path d="M 88.00 109.03 L 114.81 116.10" fill="none" stroke="#111" stroke-width="1.0" /><path d="M 15.00 103.59 L 42.62 111.47 L 44.65 114.31 M 42.62 111.47 L 49.28 102.12 M 44.65 114.31 L 52.21 105.13" fill="none" stroke="#111" stroke-width="0.89" /><path d="M 15.00 98.71 L 32.47 101.31 L 34.09 102.12 L 30.84 104.56 L 15.00 101.96 M 15.00 99.69 L 32.06 102.29" fill="none" stroke="#111" stroke-width="0.83" /><path d="M 15.00 98.87 L 32.47 101.39" fill="none" stroke="#111" stroke-width="1.42" /><path d="M 44.65 114.31 C 47.50 114.15 49.93 112.36 53.18 111.87 C 56.03 111.55 57.65 112.36 59.28 112.85 L 92.18 122.43" fill="none" stroke="#111" stroke-width="1.0" /><path d="M 88.00 121.21 L 108.31 125.84 L 114.00 128.52 C 118.06 129.34 122.52 132.18 127.16 138.27" fill="none" stroke="#111" stroke-width="1.0" /><path d="M 35.55 112.03 L 35.55 123.24 M 35.55 123.24 C 32.87 122.03 29.62 120.16 26.78 118.78 L 15.00 113.33" fill="none" stroke="#111" stroke-width="0.89" /><path d="M 15.00 121.21 L 24.75 125.84 L 25.97 128.12 L 15.00 124.87 Z" fill="#333" stroke="#111" stroke-width="0.71" /><path d="M 35.55 123.22 C 38.56 124.84 41.00 126.06 44.25 126.87 L 92.18 139.87" fill="none" stroke="#111" stroke-width="0.94" /><path d="M 88.00 138.65 L 126.18 149.21" fill="none" stroke="#111" stroke-width="0.94" /><path d="M 15.00 123.62 L 154.81 161.15" fill="none" stroke="#111" stroke-width="0.94" /><path d="M 127.20 138.09 L 134.51 140.12 L 184.06 151.90" fill="none" stroke="#111" stroke-width="0.94" /><path d="M 134.51 140.12 L 134.51 150.28" fill="none" stroke="#111" stroke-width="0.94" /><path d="M 125.57 149.22 L 134.51 150.28 C 137.76 149.46 141.82 149.46 145.07 150.28 L 184.06 160.27" fill="none" stroke="#111" stroke-width="0.94" /><path d="M 145.88 138.09 L 148.72 135.25 L 163.75 138.50 C 167.00 139.31 166.60 141.91 163.75 141.42 L 147.10 137.85" fill="none" stroke="#111" stroke-width="1.06" /><path d="M 146.04 138.17 L 148.81 135.41" fill="none" stroke="#111" stroke-width="1.89" /><path d="M 149.13 136.47 L 164.16 139.80" fill="none" stroke="#111" stroke-width="0.71" /><path d="M 154.82 161.16 L 158.47 159.29 L 184.06 158.64" fill="none" stroke="#111" stroke-width="0.94" /><path d="M 156.44 160.75 C 157.66 159.13 159.69 159.13 160.91 160.35 L 159.69 163.60 M 159.69 162.38 L 184.06 162.38 M 158.47 159.29 L 159.69 162.38" fill="none" stroke="#111" stroke-width="1.53" /><path d="M15.00 129.50 L186.00 174.64" stroke="#141414" stroke-width="0.7" fill="none"/><path d="M15.00 132.40 L186.00 177.54" stroke="#141414" stroke-width="2.4" fill="none"/><path d="M15.00 134.80 L186.00 179.94" stroke="#333" stroke-width="0.6" fill="none"/><path d="M15.00 136.30 L186.00 181.44" stroke="#141414" stroke-width="1.4" fill="none"/><path d="M15.00 138.00 L186.00 183.14" stroke="#333" stroke-width="0.6" fill="none"/><path d="M15.00 139.30 L186.00 184.44" stroke="#444" stroke-width="0.55" fill="none"/><path d="M15.00 140.60 L186.00 185.74" stroke="#555" stroke-width="0.5" fill="none"/><path d="M15.00 141.80 L186.00 186.94" stroke="#666" stroke-width="0.45" fill="none"/></g><g transform="translate(132.60 421.20)"><path d="M 114.81 116.10 L 122.12 118.37 C 126.99 120.16 131.05 124.22 135.12 128.61 L 169.23 136.08" fill="none" stroke="#111" stroke-width="1.0" /><path d="M 127.16 138.27 L 135.12 128.61" fill="none" stroke="#111" stroke-width="1.0" /><path d="M 144.86 137.87 C 145.27 134.62 148.11 132.99 150.96 133.81 M 146.90 138.27 C 147.30 136.24 148.93 135.27 150.96 135.59" fill="none" stroke="#111" stroke-width="1.18" /></g><path d="M 196.37 529.40 L 202.99 525.76 C 208.29 524.44 214.91 525.10 219.05 526.42 L 239.75 534.70 C 244.72 537.68 247.20 540.50 248.85 542.65 L 258.79 547.12 L 257.96 551.59 L 238.09 545.46 L 206.64 534.37 Z" fill="#fff" stroke="#111" stroke-width="1.0" /><path d="M 204.98 530.56 C 208.29 528.91 213.26 529.40 217.40 530.56 L 234.78 537.19 C 239.75 539.67 242.23 542.15 243.39 544.64" fill="none" stroke="#111" stroke-width="1.0" /><path d="M 196.37 529.40 L 206.64 534.37 M 207.46 531.39 L 228.16 538.01 L 235.61 543.81 M 211.60 532.72 L 213.59 535.53 M 219.88 535.03 L 222.36 538.84 M 229.81 537.68 C 233.13 537.19 235.61 539.67 234.78 542.65" fill="none" stroke="#111" stroke-width="1.18" /><ellipse cx="250.01" cy="547.62" rx="1.99" ry="1.49" fill="#666" stroke="#111" stroke-width="1.06" transform="rotate(20 250.01 547.62)"/><path d="M 187.60 556.23 C 187.26 551.26 195.05 544.97 201.67 542.98 L 234.78 552.91 L 237.43 556.56 L 233.13 563.18 L 228.49 569.47 L 223.19 569.14 L 193.39 562.19 C 189.25 560.53 187.76 558.71 187.60 556.23 Z" fill="#fff" stroke="#111" stroke-width="1.0" /><path d="M 191.40 555.89 C 193.39 553.74 196.37 552.91 199.68 553.58 L 226.50 563.68 L 235.77 555.56 M 226.50 563.68 L 226.83 569.14" fill="none" stroke="#111" stroke-width="1.0" /><path d="M 235.61 559.54 L 277.83 571.13 M 229.81 567.81 L 277.83 580.73" fill="none" stroke="#111" stroke-width="1.0" /><polygon points="255.91,514.20 245.60,517.30 250.11,525.23 240.04,521.68 236.10,529.80 232.16,521.68 222.09,525.23 226.60,517.30 216.29,514.20 226.60,511.10 222.09,503.17 232.16,506.72 236.10,498.60 240.04,506.72 250.11,503.17 245.60,511.10" fill="#0e0e0e" stroke="#0e0e0e" stroke-width="0.6"/><text x="236.10" y="517.10" text-anchor="middle" class="clk" fill="#fff" font-size="9.5" textLength="16.8" lengthAdjust="spacingAndGlyphs">click</text></g>
<g clip-path="url(#cS2)"><g transform="translate(352.50 7.20)"><path d="M 15.00 93.68 L 48.71 101.72 L 52.37 104.97 C 54.40 106.19 56.43 102.77 62.93 102.53 L 92.18 110.25" fill="none" stroke="#111" stroke-width="1.0" /><path d="M 88.00 109.03 L 114.81 116.10" fill="none" stroke="#111" stroke-width="1.0" /><path d="M 15.00 103.59 L 42.62 111.47 L 44.65 114.31 M 42.62 111.47 L 49.28 102.12 M 44.65 114.31 L 52.21 105.13" fill="none" stroke="#111" stroke-width="0.89" /><path d="M 15.00 98.71 L 32.47 101.31 L 34.09 102.12 L 30.84 104.56 L 15.00 101.96 M 15.00 99.69 L 32.06 102.29" fill="none" stroke="#111" stroke-width="0.83" /><path d="M 15.00 98.87 L 32.47 101.39" fill="none" stroke="#111" stroke-width="1.42" /><path d="M 44.65 114.31 C 47.50 114.15 49.93 112.36 53.18 111.87 C 56.03 111.55 57.65 112.36 59.28 112.85 L 92.18 122.43" fill="none" stroke="#111" stroke-width="1.0" /><path d="M 88.00 121.21 L 108.31 125.84 L 114.00 128.52 C 118.06 129.34 122.52 132.18 127.16 138.27" fill="none" stroke="#111" stroke-width="1.0" /><path d="M 35.55 112.03 L 35.55 123.24 M 35.55 123.24 C 32.87 122.03 29.62 120.16 26.78 118.78 L 15.00 113.33" fill="none" stroke="#111" stroke-width="0.89" /><path d="M 15.00 121.21 L 24.75 125.84 L 25.97 128.12 L 15.00 124.87 Z" fill="#333" stroke="#111" stroke-width="0.71" /><path d="M 35.55 123.22 C 38.56 124.84 41.00 126.06 44.25 126.87 L 92.18 139.87" fill="none" stroke="#111" stroke-width="0.94" /><path d="M 88.00 138.65 L 126.18 149.21" fill="none" stroke="#111" stroke-width="0.94" /><path d="M 15.00 123.62 L 154.81 161.15" fill="none" stroke="#111" stroke-width="0.94" /><path d="M 127.20 138.09 L 134.51 140.12 L 184.06 151.90" fill="none" stroke="#111" stroke-width="0.94" /><path d="M 134.51 140.12 L 134.51 150.28" fill="none" stroke="#111" stroke-width="0.94" /><path d="M 125.57 149.22 L 134.51 150.28 C 137.76 149.46 141.82 149.46 145.07 150.28 L 184.06 160.27" fill="none" stroke="#111" stroke-width="0.94" /><path d="M 145.88 138.09 L 148.72 135.25 L 163.75 138.50 C 167.00 139.31 166.60 141.91 163.75 141.42 L 147.10 137.85" fill="none" stroke="#111" stroke-width="1.06" /><path d="M 146.04 138.17 L 148.81 135.41" fill="none" stroke="#111" stroke-width="1.89" /><path d="M 149.13 136.47 L 164.16 139.80" fill="none" stroke="#111" stroke-width="0.71" /><path d="M 154.82 161.16 L 158.47 159.29 L 184.06 158.64" fill="none" stroke="#111" stroke-width="0.94" /><path d="M 156.44 160.75 C 157.66 159.13 159.69 159.13 160.91 160.35 L 159.69 163.60 M 159.69 162.38 L 184.06 162.38 M 158.47 159.29 L 159.69 162.38" fill="none" stroke="#111" stroke-width="1.53" /><path d="M15.00 129.50 L186.00 174.64" stroke="#141414" stroke-width="0.7" fill="none"/><path d="M15.00 132.40 L186.00 177.54" stroke="#141414" stroke-width="2.4" fill="none"/><path d="M15.00 134.80 L186.00 179.94" stroke="#333" stroke-width="0.6" fill="none"/><path d="M15.00 136.30 L186.00 181.44" stroke="#141414" stroke-width="1.4" fill="none"/><path d="M15.00 138.00 L186.00 183.14" stroke="#333" stroke-width="0.6" fill="none"/><path d="M15.00 139.30 L186.00 184.44" stroke="#444" stroke-width="0.55" fill="none"/><path d="M15.00 140.60 L186.00 185.74" stroke="#555" stroke-width="0.5" fill="none"/><path d="M15.00 141.80 L186.00 186.94" stroke="#666" stroke-width="0.45" fill="none"/></g><g transform="translate(352.50 7.20)"><ellipse cx="73.49" cy="125.28" rx="3.74" ry="4.55" fill="none" stroke="#111" stroke-width="1.59" transform="rotate(-12 73.49 125.28)"/><path d="M 70.65 124.22 L 76.74 125.84" fill="none" stroke="#111" stroke-width="1.06" /><ellipse cx="85.03" cy="127.47" rx="3.09" ry="3.25" fill="#ddd" stroke="#111" stroke-width="1.59"/><ellipse cx="84.86" cy="127.71" rx="1.46" ry="1.46" fill="#888" stroke="#333" stroke-width="1.18"/><ellipse cx="97.10" cy="129.74" rx="3.57" ry="3.74" fill="none" stroke="#111" stroke-width="1.59"/><path d="M 94.09 128.77 L 100.19 130.56 M 94.50 130.72 L 99.37 132.02" fill="none" stroke="#111" stroke-width="0.94" /></g><g transform="translate(352.50 7.20)"><path d="M 119.07 128.10 L 125.17 124.04 L 132.48 126.72 L 135.32 129.97 L 127.20 138.09 L 121.51 132.00 Z" fill="#fff" stroke="#111" stroke-width="1.0" /><path d="M 135.32 129.97 L 184.06 140.28" fill="none" stroke="#111" stroke-width="1.0" /></g><g transform="translate(-271.60 -96.70)"><path d="M 700.24 218.58 L 704.68 213.74 C 708.31 212.13 713.01 212.40 716.37 213.20 L 734.52 218.85 C 739.89 221.54 741.91 224.90 743.25 227.59 L 751.99 232.96 L 750.65 236.32 L 733.17 231.22 L 710.32 222.88 Z" fill="#fff" stroke="#111" stroke-width="1.0" /><path d="M 708.31 217.51 C 710.32 215.89 713.01 215.89 715.70 216.83 L 729.14 221.54 C 733.17 223.55 735.86 226.24 737.20 228.93" fill="none" stroke="#111" stroke-width="1.0" /><path d="M 700.24 218.58 L 710.32 222.88 M 710.32 218.18 L 726.45 223.55 L 733.17 229.60 M 714.35 219.52 L 716.37 221.54 M 721.08 221.54 L 723.76 224.90 M 727.80 223.55 C 730.48 222.88 733.17 224.90 732.90 227.59" fill="none" stroke="#111" stroke-width="1.18" /><ellipse cx="730.22" cy="225.84" rx="2.96" ry="1.61" fill="#666" stroke="#111" stroke-width="1.18" transform="rotate(25 730.22 225.84)"/><path d="M 743.25 227.59 L 745.27 234.98 M 748.63 231.22 L 749.30 235.65" fill="none" stroke="#111" stroke-width="0.94" /></g><path d="M 458.19 110.20 C 458.50 106.49 462.05 105.10 465.61 105.87 L 526.19 120.87 L 526.19 126.58 L 461.59 113.60 Z" fill="#fff" stroke="#111" stroke-width="1.0" /><path d="M 460.51 109.58 C 461.28 107.73 463.60 107.42 465.91 108.04 L 526.19 123.18" fill="none" stroke="#111" stroke-width="1.0" /><path d="M 464.06 107.73 L 467.77 108.66 L 467.46 110.20 L 463.75 109.27 Z M 482.61 112.36 L 486.32 113.29 L 486.01 114.84 L 482.30 113.91 Z M 495.59 115.46 L 499.61 116.38 L 499.30 117.93 L 495.28 117.00 Z" fill="none" stroke="#111" stroke-width="0.83" /><path d="M 487.55 118.24 L 526.19 127.82" fill="none" stroke="#111" stroke-width="0.94" /><path d="M 425.57 98.08 C 420.32 97.15 416.46 92.82 417.23 88.49 C 417.54 84.32 421.09 80.46 424.49 78.91 L 428.51 77.98 L 454.94 84.32 L 502.24 99.78 L 492.96 106.42 L 421.25 88.49 L 424.18 95.30 Z" fill="#fff" stroke="none" stroke-width="0.0" /><path d="M 429.59 90.81 L 454.32 97.77 L 449.22 103.18 L 449.22 105.34 L 422.33 97.00 L 425.11 95.30 Z" fill="#fff" stroke="#111" stroke-width="1.0" /><path d="M 449.22 103.18 L 425.11 95.30" fill="none" stroke="#111" stroke-width="1.0" /><path d="M 425.57 98.08 C 420.32 97.15 416.46 92.82 417.23 88.49 C 417.54 84.32 421.09 80.46 424.49 78.91 L 428.51 77.98 L 454.94 84.32" fill="none" stroke="#111" stroke-width="1.0" /><path d="M 421.71 85.71 L 493.58 103.64 L 499.92 99.00 M 421.25 88.49 L 492.96 106.42 L 502.24 100.24" fill="none" stroke="#111" stroke-width="1.0" /><path d="M 421.71 85.71 C 419.55 88.49 420.32 93.13 424.49 95.30 M 424.49 78.91 C 422.64 81.23 421.71 83.55 421.71 85.71" fill="none" stroke="#111" stroke-width="1.0" /><path d="M 455.87 85.09 L 461.28 79.84 L 465.91 78.91 L 510.74 91.28 L 515.06 94.06 L 513.21 97.46 L 507.65 97.77 L 502.24 99.78 L 499.92 97.15 Z" fill="#fff" stroke="#111" stroke-width="1.0" /><path d="M 461.28 79.84 L 462.82 83.86 L 507.65 95.91 L 513.21 97.46 M 462.82 83.86 L 458.50 86.64 M 507.65 95.91 L 509.19 99.00" fill="none" stroke="#111" stroke-width="0.94" /><ellipse cx="465.91" cy="82.93" rx="2.47" ry="1.39" fill="none" stroke="#111" stroke-width="1.06" transform="rotate(10 465.91 82.93)"/><ellipse cx="485.23" cy="88.19" rx="2.47" ry="1.39" fill="none" stroke="#111" stroke-width="1.06" transform="rotate(10 485.23 88.19)"/><ellipse cx="497.75" cy="91.74" rx="2.47" ry="1.39" fill="none" stroke="#111" stroke-width="1.06" transform="rotate(10 497.75 91.74)"/><ellipse cx="466.69" cy="70.87" rx="5.72" ry="3.25" fill="#fff" stroke="#222" stroke-width="1.89"/><ellipse cx="466.69" cy="70.57" rx="2.47" ry="1.24" fill="#fff" stroke="#333" stroke-width="1.42"/><path d="M 460.97 71.49 C 462.05 75.51 471.32 75.51 472.41 71.49" fill="none" stroke="#111" stroke-width="1.06" /><ellipse cx="497.60" cy="78.60" rx="5.72" ry="3.25" fill="#fff" stroke="#222" stroke-width="1.89"/><ellipse cx="497.60" cy="78.29" rx="2.47" ry="1.24" fill="#fff" stroke="#333" stroke-width="1.42"/><path d="M 491.88 79.22 C 492.96 83.24 502.24 83.24 503.32 79.22" fill="none" stroke="#111" stroke-width="1.06" /><path d="M 464.31 57.09 L 470.43 56.07 L 471.45 64.57 L 465.67 65.59 Z" fill="#fff" stroke="#111" stroke-width="1.0" /><ellipse cx="466.69" cy="55.73" rx="5.27" ry="3.57" fill="#fff" stroke="#111" stroke-width="1.0" transform="rotate(-10 466.69 55.73)"/><path d="M 464.65 55.39 L 469.07 54.71 M 466.35 53.69 L 467.37 56.41" fill="none" stroke="#111" stroke-width="0.94" /><path d="M 495.22 65.59 L 501.34 64.57 L 502.36 73.07 L 496.58 74.09 Z" fill="#fff" stroke="#111" stroke-width="1.0" /><ellipse cx="497.60" cy="64.23" rx="5.27" ry="3.57" fill="#fff" stroke="#111" stroke-width="1.0" transform="rotate(-10 497.60 64.23)"/><path d="M 495.56 63.89 L 499.98 63.21 M 497.26 62.19 L 498.28 64.91" fill="none" stroke="#111" stroke-width="0.94" /><polygon points="519.87,111.15 509.72,108.84 510.41,105.82 503.60,109.60 508.10,115.96 508.79,112.94 518.93,115.25" fill="#151515" stroke="#151515" stroke-width="0.3"/></g>
<g clip-path="url(#cH2)"><g transform="translate(132.60 10.80)"><path d="M 15.00 93.68 L 48.71 101.72 L 52.37 104.97 C 54.40 106.19 56.43 102.77 62.93 102.53 L 92.18 110.25" fill="none" stroke="#111" stroke-width="1.0" /><path d="M 88.00 109.03 L 114.81 116.10" fill="none" stroke="#111" stroke-width="1.0" /><path d="M 15.00 103.59 L 42.62 111.47 L 44.65 114.31 M 42.62 111.47 L 49.28 102.12 M 44.65 114.31 L 52.21 105.13" fill="none" stroke="#111" stroke-width="0.89" /><path d="M 15.00 98.71 L 32.47 101.31 L 34.09 102.12 L 30.84 104.56 L 15.00 101.96 M 15.00 99.69 L 32.06 102.29" fill="none" stroke="#111" stroke-width="0.83" /><path d="M 15.00 98.87 L 32.47 101.39" fill="none" stroke="#111" stroke-width="1.42" /><path d="M 44.65 114.31 C 47.50 114.15 49.93 112.36 53.18 111.87 C 56.03 111.55 57.65 112.36 59.28 112.85 L 92.18 122.43" fill="none" stroke="#111" stroke-width="1.0" /><path d="M 88.00 121.21 L 108.31 125.84 L 114.00 128.52 C 118.06 129.34 122.52 132.18 127.16 138.27" fill="none" stroke="#111" stroke-width="1.0" /><path d="M 35.55 112.03 L 35.55 123.24 M 35.55 123.24 C 32.87 122.03 29.62 120.16 26.78 118.78 L 15.00 113.33" fill="none" stroke="#111" stroke-width="0.89" /><path d="M 15.00 121.21 L 24.75 125.84 L 25.97 128.12 L 15.00 124.87 Z" fill="#333" stroke="#111" stroke-width="0.71" /><path d="M 35.55 123.22 C 38.56 124.84 41.00 126.06 44.25 126.87 L 92.18 139.87" fill="none" stroke="#111" stroke-width="0.94" /><path d="M 88.00 138.65 L 126.18 149.21" fill="none" stroke="#111" stroke-width="0.94" /><path d="M 15.00 123.62 L 154.81 161.15" fill="none" stroke="#111" stroke-width="0.94" /><path d="M 127.20 138.09 L 134.51 140.12 L 184.06 151.90" fill="none" stroke="#111" stroke-width="0.94" /><path d="M 134.51 140.12 L 134.51 150.28" fill="none" stroke="#111" stroke-width="0.94" /><path d="M 125.57 149.22 L 134.51 150.28 C 137.76 149.46 141.82 149.46 145.07 150.28 L 184.06 160.27" fill="none" stroke="#111" stroke-width="0.94" /><path d="M 145.88 138.09 L 148.72 135.25 L 163.75 138.50 C 167.00 139.31 166.60 141.91 163.75 141.42 L 147.10 137.85" fill="none" stroke="#111" stroke-width="1.06" /><path d="M 146.04 138.17 L 148.81 135.41" fill="none" stroke="#111" stroke-width="1.89" /><path d="M 149.13 136.47 L 164.16 139.80" fill="none" stroke="#111" stroke-width="0.71" /><path d="M 154.82 161.16 L 158.47 159.29 L 184.06 158.64" fill="none" stroke="#111" stroke-width="0.94" /><path d="M 156.44 160.75 C 157.66 159.13 159.69 159.13 160.91 160.35 L 159.69 163.60 M 159.69 162.38 L 184.06 162.38 M 158.47 159.29 L 159.69 162.38" fill="none" stroke="#111" stroke-width="1.53" /><path d="M15.00 129.50 L186.00 174.64" stroke="#141414" stroke-width="0.7" fill="none"/><path d="M15.00 132.40 L186.00 177.54" stroke="#141414" stroke-width="2.4" fill="none"/><path d="M15.00 134.80 L186.00 179.94" stroke="#333" stroke-width="0.6" fill="none"/><path d="M15.00 136.30 L186.00 181.44" stroke="#141414" stroke-width="1.4" fill="none"/><path d="M15.00 138.00 L186.00 183.14" stroke="#333" stroke-width="0.6" fill="none"/><path d="M15.00 139.30 L186.00 184.44" stroke="#444" stroke-width="0.55" fill="none"/><path d="M15.00 140.60 L186.00 185.74" stroke="#555" stroke-width="0.5" fill="none"/><path d="M15.00 141.80 L186.00 186.94" stroke="#666" stroke-width="0.45" fill="none"/></g><g transform="translate(132.60 10.80)"><ellipse cx="73.49" cy="125.28" rx="3.74" ry="4.55" fill="none" stroke="#111" stroke-width="1.59" transform="rotate(-12 73.49 125.28)"/><path d="M 70.65 124.22 L 76.74 125.84" fill="none" stroke="#111" stroke-width="1.06" /><ellipse cx="85.03" cy="127.47" rx="3.09" ry="3.25" fill="#ddd" stroke="#111" stroke-width="1.59"/><ellipse cx="84.86" cy="127.71" rx="1.46" ry="1.46" fill="#888" stroke="#333" stroke-width="1.18"/><ellipse cx="97.10" cy="129.74" rx="3.57" ry="3.74" fill="none" stroke="#111" stroke-width="1.59"/><path d="M 94.09 128.77 L 100.19 130.56 M 94.50 130.72 L 99.37 132.02" fill="none" stroke="#111" stroke-width="0.94" /></g><g transform="translate(132.60 10.80)"><path d="M 119.07 128.10 L 125.17 124.04 L 132.48 126.72 L 135.32 129.97 L 127.20 138.09 L 121.51 132.00 Z" fill="#fff" stroke="#111" stroke-width="1.0" /><path d="M 135.32 129.97 L 184.06 140.28" fill="none" stroke="#111" stroke-width="1.0" /></g><g transform="translate(19.90 -106.70)"><path d="M 191.24 234.37 L 197.74 229.17 L 231.05 233.56 L 232.67 248.18 Z" fill="#fff" stroke="none" stroke-width="0.0" /><path d="M 196.93 229.17 C 198.72 231.61 200.18 235.26 200.83 238.51" fill="none" stroke="#111" stroke-width="1.42" /><path d="M 201.80 229.90 C 203.59 232.34 205.05 236.73 205.70 239.98" fill="none" stroke="#111" stroke-width="1.42" /><path d="M 206.68 230.63 C 208.46 233.07 209.93 238.11 210.58 241.36" fill="none" stroke="#111" stroke-width="1.42" /><path d="M 211.55 231.36 C 213.34 233.80 214.80 239.49 215.45 242.74" fill="none" stroke="#111" stroke-width="1.42" /><path d="M 216.42 232.10 C 218.21 234.53 219.67 240.95 220.32 244.20" fill="none" stroke="#111" stroke-width="1.42" /><path d="M 221.30 232.83 C 223.09 235.26 224.55 242.33 225.20 245.58" fill="none" stroke="#111" stroke-width="1.42" /><path d="M 226.17 233.56 C 227.96 236.00 229.42 243.71 230.07 246.96" fill="none" stroke="#111" stroke-width="1.42" /><path d="M 189.62 235.35 L 232.67 247.77" fill="none" stroke="#111" stroke-width="1.0" /><path d="M 226.58 230.47 L 234.30 226.90 L 240.15 237.46 L 233.48 241.03 L 230.64 246.39 L 229.02 244.93 Z" fill="#fff" stroke="#111" stroke-width="1.0" /><path d="M 229.83 231.45 L 234.30 227.55 L 239.66 237.21 L 233.48 241.03 Z" fill="none" stroke="#111" stroke-width="1.0" /><path d="M 232.02 234.05 L 234.95 231.93 L 236.90 235.83 L 233.89 238.03 Z" fill="none" stroke="#111" stroke-width="1.0" /><path d="M 226.58 230.47 L 229.83 231.45 L 233.48 241.03" fill="none" stroke="#111" stroke-width="1.0" /></g><path d="M 210.99 127.74 L 233.96 118.39 L 239.85 120.42 L 244.53 123.67 L 219.12 130.38 Z" fill="#fff" stroke="#111" stroke-width="1.0" /><path d="M 213.63 128.35 L 235.99 119.61 M 239.85 120.42 L 238.43 124.28" fill="none" stroke="#111" stroke-width="0.94" /><path d="M 272.46 69.71 L 187.51 89.94 L 181.02 97.07 C 177.13 102.26 177.78 108.75 182.97 112.64 C 184.92 113.94 186.86 114.19 188.81 113.81 L 212.80 107.58 C 217.34 105.76 218.25 100.96 215.40 98.37 L 210.21 97.98 L 272.46 79.69 Z" fill="#fff" stroke="#111" stroke-width="1.0" /><path d="M 272.46 74.89 L 189.46 94.09 C 185.56 95.13 182.97 97.98 181.93 102.65" fill="none" stroke="#111" stroke-width="1.0" /><path d="M 272.46 79.69 L 210.21 97.98" fill="none" stroke="#111" stroke-width="1.0" /><path d="M 187.77 89.94 L 181.28 96.81" fill="none" stroke="#111" stroke-width="1.89" /><path d="M 181.93 102.91 C 182.97 99.28 188.16 97.98 192.05 98.76 L 214.75 98.76 M 182.32 106.80 C 183.62 109.65 188.16 110.69 190.75 108.88 L 193.61 104.47 L 191.66 99.02 M 193.61 104.47 L 212.15 101.61 L 215.14 98.76 M 212.15 101.61 L 213.45 106.80" fill="none" stroke="#111" stroke-width="0.94" /><path d="M 200.87 102.91 L 208.91 101.48" fill="none" stroke="#111" stroke-width="2.36" /><path d="M 175.51 82.91 C 166.25 84.37 159.59 90.87 162.19 96.15 C 163.81 99.64 167.87 100.13 172.10 99.24" fill="none" stroke="#151515" stroke-width="3.78" stroke-linecap="butt"/><path d="M 171.28 94.44 176.16 98.02 173.56 101.75 Z" fill="#151515" stroke="#151515" stroke-width="0.35" /></g>
<g clip-path="url(#cH3)"><g transform="translate(6.70 122.90)"><path d="M 15.00 93.68 L 48.71 101.72 L 52.37 104.97 C 54.40 106.19 56.43 102.77 62.93 102.53 L 92.18 110.25" fill="none" stroke="#111" stroke-width="1.0" /><path d="M 88.00 109.03 L 114.81 116.10" fill="none" stroke="#111" stroke-width="1.0" /><path d="M 15.00 103.59 L 42.62 111.47 L 44.65 114.31 M 42.62 111.47 L 49.28 102.12 M 44.65 114.31 L 52.21 105.13" fill="none" stroke="#111" stroke-width="0.89" /><path d="M 15.00 98.71 L 32.47 101.31 L 34.09 102.12 L 30.84 104.56 L 15.00 101.96 M 15.00 99.69 L 32.06 102.29" fill="none" stroke="#111" stroke-width="0.83" /><path d="M 15.00 98.87 L 32.47 101.39" fill="none" stroke="#111" stroke-width="1.42" /><path d="M 44.65 114.31 C 47.50 114.15 49.93 112.36 53.18 111.87 C 56.03 111.55 57.65 112.36 59.28 112.85 L 92.18 122.43" fill="none" stroke="#111" stroke-width="1.0" /><path d="M 88.00 121.21 L 108.31 125.84 L 114.00 128.52 C 118.06 129.34 122.52 132.18 127.16 138.27" fill="none" stroke="#111" stroke-width="1.0" /><path d="M 35.55 112.03 L 35.55 123.24 M 35.55 123.24 C 32.87 122.03 29.62 120.16 26.78 118.78 L 15.00 113.33" fill="none" stroke="#111" stroke-width="0.89" /><path d="M 15.00 121.21 L 24.75 125.84 L 25.97 128.12 L 15.00 124.87 Z" fill="#333" stroke="#111" stroke-width="0.71" /><path d="M 35.55 123.22 C 38.56 124.84 41.00 126.06 44.25 126.87 L 92.18 139.87" fill="none" stroke="#111" stroke-width="0.94" /><path d="M 88.00 138.65 L 126.18 149.21" fill="none" stroke="#111" stroke-width="0.94" /><path d="M 15.00 123.62 L 154.81 161.15" fill="none" stroke="#111" stroke-width="0.94" /><path d="M 127.20 138.09 L 134.51 140.12 L 184.06 151.90" fill="none" stroke="#111" stroke-width="0.94" /><path d="M 134.51 140.12 L 134.51 150.28" fill="none" stroke="#111" stroke-width="0.94" /><path d="M 125.57 149.22 L 134.51 150.28 C 137.76 149.46 141.82 149.46 145.07 150.28 L 184.06 160.27" fill="none" stroke="#111" stroke-width="0.94" /><path d="M 145.88 138.09 L 148.72 135.25 L 163.75 138.50 C 167.00 139.31 166.60 141.91 163.75 141.42 L 147.10 137.85" fill="none" stroke="#111" stroke-width="1.06" /><path d="M 146.04 138.17 L 148.81 135.41" fill="none" stroke="#111" stroke-width="1.89" /><path d="M 149.13 136.47 L 164.16 139.80" fill="none" stroke="#111" stroke-width="0.71" /><path d="M 154.82 161.16 L 158.47 159.29 L 184.06 158.64" fill="none" stroke="#111" stroke-width="0.94" /><path d="M 156.44 160.75 C 157.66 159.13 159.69 159.13 160.91 160.35 L 159.69 163.60 M 159.69 162.38 L 184.06 162.38 M 158.47 159.29 L 159.69 162.38" fill="none" stroke="#111" stroke-width="1.53" /><path d="M15.00 129.50 L186.00 174.64" stroke="#141414" stroke-width="0.7" fill="none"/><path d="M15.00 132.40 L186.00 177.54" stroke="#141414" stroke-width="2.4" fill="none"/><path d="M15.00 134.80 L186.00 179.94" stroke="#333" stroke-width="0.6" fill="none"/><path d="M15.00 136.30 L186.00 181.44" stroke="#141414" stroke-width="1.4" fill="none"/><path d="M15.00 138.00 L186.00 183.14" stroke="#333" stroke-width="0.6" fill="none"/><path d="M15.00 139.30 L186.00 184.44" stroke="#444" stroke-width="0.55" fill="none"/><path d="M15.00 140.60 L186.00 185.74" stroke="#555" stroke-width="0.5" fill="none"/><path d="M15.00 141.80 L186.00 186.94" stroke="#666" stroke-width="0.45" fill="none"/></g><g transform="translate(6.70 122.90)"><ellipse cx="73.49" cy="125.28" rx="3.74" ry="4.55" fill="none" stroke="#111" stroke-width="1.59" transform="rotate(-12 73.49 125.28)"/><path d="M 70.65 124.22 L 76.74 125.84" fill="none" stroke="#111" stroke-width="1.06" /><ellipse cx="85.03" cy="127.47" rx="3.09" ry="3.25" fill="#ddd" stroke="#111" stroke-width="1.59"/><ellipse cx="84.86" cy="127.71" rx="1.46" ry="1.46" fill="#888" stroke="#333" stroke-width="1.18"/><ellipse cx="97.10" cy="129.74" rx="3.57" ry="3.74" fill="none" stroke="#111" stroke-width="1.59"/><path d="M 94.09 128.77 L 100.19 130.56 M 94.50 130.72 L 99.37 132.02" fill="none" stroke="#111" stroke-width="0.94" /></g><g transform="translate(6.70 122.90)"><path d="M 119.07 128.10 L 125.17 124.04 L 132.48 126.72 L 135.32 129.97 L 127.20 138.09 L 121.51 132.00 Z" fill="#fff" stroke="#111" stroke-width="1.0" /><path d="M 135.32 129.97 L 184.06 140.28" fill="none" stroke="#111" stroke-width="1.0" /></g><path d="M 49.34 249.89 C 49.95 256.40 54.42 260.46 61.54 259.45 C 65.60 258.84 68.65 256.80 69.67 254.37" fill="none" stroke="#111" stroke-width="1.0" /><g transform="translate(-106.00 5.40)"><path d="M 191.24 234.37 L 197.74 229.17 L 231.05 233.56 L 232.67 248.18 Z" fill="#fff" stroke="none" stroke-width="0.0" /><path d="M 196.93 229.17 C 198.72 231.61 200.18 235.26 200.83 238.51" fill="none" stroke="#111" stroke-width="1.42" /><path d="M 201.80 229.90 C 203.59 232.34 205.05 236.73 205.70 239.98" fill="none" stroke="#111" stroke-width="1.42" /><path d="M 206.68 230.63 C 208.46 233.07 209.93 238.11 210.58 241.36" fill="none" stroke="#111" stroke-width="1.42" /><path d="M 211.55 231.36 C 213.34 233.80 214.80 239.49 215.45 242.74" fill="none" stroke="#111" stroke-width="1.42" /><path d="M 216.42 232.10 C 218.21 234.53 219.67 240.95 220.32 244.20" fill="none" stroke="#111" stroke-width="1.42" /><path d="M 221.30 232.83 C 223.09 235.26 224.55 242.33 225.20 245.58" fill="none" stroke="#111" stroke-width="1.42" /><path d="M 226.17 233.56 C 227.96 236.00 229.42 243.71 230.07 246.96" fill="none" stroke="#111" stroke-width="1.42" /><path d="M 189.62 235.35 L 232.67 247.77" fill="none" stroke="#111" stroke-width="1.0" /><path d="M 226.58 230.47 L 234.30 226.90 L 240.15 237.46 L 233.48 241.03 L 230.64 246.39 L 229.02 244.93 Z" fill="#fff" stroke="#111" stroke-width="1.0" /><path d="M 229.83 231.45 L 234.30 227.55 L 239.66 237.21 L 233.48 241.03 Z" fill="none" stroke="#111" stroke-width="1.0" /><path d="M 232.02 234.05 L 234.95 231.93 L 236.90 235.83 L 233.89 238.03 Z" fill="none" stroke="#111" stroke-width="1.0" /><path d="M 226.58 230.47 L 229.83 231.45 L 233.48 241.03" fill="none" stroke="#111" stroke-width="1.0" /></g><path d="M 152.39 214.93 L 62.96 234.65 L 83.28 240.54 L 152.39 228.35 Z" fill="#fff" stroke="none" stroke-width="0.0" /><path d="M 152.39 214.93 L 62.96 234.65" fill="none" stroke="#111" stroke-width="1.0" /><path d="M 152.39 221.85 L 78.81 237.29" fill="none" stroke="#111" stroke-width="1.0" /><path d="M 152.39 228.35 L 83.28 240.54" fill="none" stroke="#111" stroke-width="1.0" /><polygon points="84.48,225.20 96.90,220.73 97.78,223.17 101.40,217.30 94.86,215.08 95.74,217.53 83.32,222.00" fill="#151515" stroke="#151515" stroke-width="0.3"/></g>
<g clip-path="url(#cH4)"><g transform="translate(112.70 117.50)"><path d="M 15.00 93.68 L 48.71 101.72 L 52.37 104.97 C 54.40 106.19 56.43 102.77 62.93 102.53 L 92.18 110.25" fill="none" stroke="#111" stroke-width="1.0" /><path d="M 88.00 109.03 L 114.81 116.10" fill="none" stroke="#111" stroke-width="1.0" /><path d="M 15.00 103.59 L 42.62 111.47 L 44.65 114.31 M 42.62 111.47 L 49.28 102.12 M 44.65 114.31 L 52.21 105.13" fill="none" stroke="#111" stroke-width="0.89" /><path d="M 15.00 98.71 L 32.47 101.31 L 34.09 102.12 L 30.84 104.56 L 15.00 101.96 M 15.00 99.69 L 32.06 102.29" fill="none" stroke="#111" stroke-width="0.83" /><path d="M 15.00 98.87 L 32.47 101.39" fill="none" stroke="#111" stroke-width="1.42" /><path d="M 44.65 114.31 C 47.50 114.15 49.93 112.36 53.18 111.87 C 56.03 111.55 57.65 112.36 59.28 112.85 L 92.18 122.43" fill="none" stroke="#111" stroke-width="1.0" /><path d="M 88.00 121.21 L 108.31 125.84 L 114.00 128.52 C 118.06 129.34 122.52 132.18 127.16 138.27" fill="none" stroke="#111" stroke-width="1.0" /><path d="M 35.55 112.03 L 35.55 123.24 M 35.55 123.24 C 32.87 122.03 29.62 120.16 26.78 118.78 L 15.00 113.33" fill="none" stroke="#111" stroke-width="0.89" /><path d="M 15.00 121.21 L 24.75 125.84 L 25.97 128.12 L 15.00 124.87 Z" fill="#333" stroke="#111" stroke-width="0.71" /><path d="M 35.55 123.22 C 38.56 124.84 41.00 126.06 44.25 126.87 L 92.18 139.87" fill="none" stroke="#111" stroke-width="0.94" /><path d="M 88.00 138.65 L 126.18 149.21" fill="none" stroke="#111" stroke-width="0.94" /><path d="M 15.00 123.62 L 154.81 161.15" fill="none" stroke="#111" stroke-width="0.94" /><path d="M 127.20 138.09 L 134.51 140.12 L 184.06 151.90" fill="none" stroke="#111" stroke-width="0.94" /><path d="M 134.51 140.12 L 134.51 150.28" fill="none" stroke="#111" stroke-width="0.94" /><path d="M 125.57 149.22 L 134.51 150.28 C 137.76 149.46 141.82 149.46 145.07 150.28 L 184.06 160.27" fill="none" stroke="#111" stroke-width="0.94" /><path d="M 145.88 138.09 L 148.72 135.25 L 163.75 138.50 C 167.00 139.31 166.60 141.91 163.75 141.42 L 147.10 137.85" fill="none" stroke="#111" stroke-width="1.06" /><path d="M 146.04 138.17 L 148.81 135.41" fill="none" stroke="#111" stroke-width="1.89" /><path d="M 149.13 136.47 L 164.16 139.80" fill="none" stroke="#111" stroke-width="0.71" /><path d="M 154.82 161.16 L 158.47 159.29 L 184.06 158.64" fill="none" stroke="#111" stroke-width="0.94" /><path d="M 156.44 160.75 C 157.66 159.13 159.69 159.13 160.91 160.35 L 159.69 163.60 M 159.69 162.38 L 184.06 162.38 M 158.47 159.29 L 159.69 162.38" fill="none" stroke="#111" stroke-width="1.53" /><path d="M15.00 129.50 L186.00 174.64" stroke="#141414" stroke-width="0.7" fill="none"/><path d="M15.00 132.40 L186.00 177.54" stroke="#141414" stroke-width="2.4" fill="none"/><path d="M15.00 134.80 L186.00 179.94" stroke="#333" stroke-width="0.6" fill="none"/><path d="M15.00 136.30 L186.00 181.44" stroke="#141414" stroke-width="1.4" fill="none"/><path d="M15.00 138.00 L186.00 183.14" stroke="#333" stroke-width="0.6" fill="none"/><path d="M15.00 139.30 L186.00 184.44" stroke="#444" stroke-width="0.55" fill="none"/><path d="M15.00 140.60 L186.00 185.74" stroke="#555" stroke-width="0.5" fill="none"/><path d="M15.00 141.80 L186.00 186.94" stroke="#666" stroke-width="0.45" fill="none"/></g><g transform="translate(112.70 117.50)"><ellipse cx="73.49" cy="125.28" rx="3.74" ry="4.55" fill="none" stroke="#111" stroke-width="1.59" transform="rotate(-12 73.49 125.28)"/><path d="M 70.65 124.22 L 76.74 125.84" fill="none" stroke="#111" stroke-width="1.06" /><ellipse cx="85.03" cy="127.47" rx="3.09" ry="3.25" fill="#ddd" stroke="#111" stroke-width="1.59"/><ellipse cx="84.86" cy="127.71" rx="1.46" ry="1.46" fill="#888" stroke="#333" stroke-width="1.18"/><ellipse cx="97.10" cy="129.74" rx="3.57" ry="3.74" fill="none" stroke="#111" stroke-width="1.59"/><path d="M 94.09 128.77 L 100.19 130.56 M 94.50 130.72 L 99.37 132.02" fill="none" stroke="#111" stroke-width="0.94" /></g><g transform="translate(112.70 117.50)"><path d="M 119.07 128.10 L 125.17 124.04 L 132.48 126.72 L 135.32 129.97 L 127.20 138.09 L 121.51 132.00 Z" fill="#fff" stroke="#111" stroke-width="1.0" /><path d="M 135.32 129.97 L 184.06 140.28" fill="none" stroke="#111" stroke-width="1.0" /></g><path d="M 191.24 234.37 L 197.74 229.17 L 231.05 233.56 L 232.67 248.18 Z" fill="#fff" stroke="none" stroke-width="0.0" /><path d="M 196.93 229.17 C 198.72 231.61 200.18 235.26 200.83 238.51" fill="none" stroke="#111" stroke-width="1.42" /><path d="M 201.80 229.90 C 203.59 232.34 205.05 236.73 205.70 239.98" fill="none" stroke="#111" stroke-width="1.42" /><path d="M 206.68 230.63 C 208.46 233.07 209.93 238.11 210.58 241.36" fill="none" stroke="#111" stroke-width="1.42" /><path d="M 211.55 231.36 C 213.34 233.80 214.80 239.49 215.45 242.74" fill="none" stroke="#111" stroke-width="1.42" /><path d="M 216.42 232.10 C 218.21 234.53 219.67 240.95 220.32 244.20" fill="none" stroke="#111" stroke-width="1.42" /><path d="M 221.30 232.83 C 223.09 235.26 224.55 242.33 225.20 245.58" fill="none" stroke="#111" stroke-width="1.42" /><path d="M 226.17 233.56 C 227.96 236.00 229.42 243.71 230.07 246.96" fill="none" stroke="#111" stroke-width="1.42" /><path d="M 189.62 235.35 L 232.67 247.77" fill="none" stroke="#111" stroke-width="1.0" /><path d="M 226.58 230.47 L 234.30 226.90 L 240.15 237.46 L 233.48 241.03 L 230.64 246.39 L 229.02 244.93 Z" fill="#fff" stroke="#111" stroke-width="1.0" /><path d="M 229.83 231.45 L 234.30 227.55 L 239.66 237.21 L 233.48 241.03 Z" fill="none" stroke="#111" stroke-width="1.0" /><path d="M 232.02 234.05 L 234.95 231.93 L 236.90 235.83 L 233.89 238.03 Z" fill="none" stroke="#111" stroke-width="1.0" /><path d="M 226.58 230.47 L 229.83 231.45 L 233.48 241.03" fill="none" stroke="#111" stroke-width="1.0" /><path d="M 274.10 210.65 L 209.11 225.43 L 193.27 229.74 C 190.43 230.47 189.21 232.34 190.02 234.37 L 192.05 235.35 L 194.49 233.56 L 217.24 231.93 L 274.10 217.96 Z" fill="#fff" stroke="none" stroke-width="0.0" /><path d="M 274.10 210.65 L 209.11 225.43 L 193.27 229.74" fill="none" stroke="#111" stroke-width="1.0" /><path d="M 274.10 214.71 L 211.55 229.50 L 194.49 233.56" fill="none" stroke="#111" stroke-width="1.0" /><path d="M 274.10 217.96 L 217.24 231.93" fill="none" stroke="#111" stroke-width="1.0" /><path d="M 193.52 229.74 C 190.59 230.47 189.37 232.34 190.19 234.37 L 192.22 235.26 L 194.49 233.56" fill="none" stroke="#111" stroke-width="2.01" /><polygon points="234.41,205.40 224.10,208.50 228.61,216.43 218.54,212.88 214.60,221.00 210.66,212.88 200.59,216.43 205.10,208.50 194.79,205.40 205.10,202.30 200.59,194.37 210.66,197.92 214.60,189.80 218.54,197.92 228.61,194.37 224.10,202.30" fill="#0e0e0e" stroke="#0e0e0e" stroke-width="0.6"/><text x="214.60" y="208.30" text-anchor="middle" class="clk" fill="#fff" font-size="9.5" textLength="16.8" lengthAdjust="spacingAndGlyphs">click</text></g>
<g><rect x="30.20" y="46.80" width="120.80" height="124.60" fill="none" stroke="#383838" stroke-width="1.7"/>
<rect x="151.00" y="46.80" width="121.50" height="124.60" fill="none" stroke="#383838" stroke-width="1.7"/>
<rect x="30.20" y="171.40" width="120.80" height="124.90" fill="none" stroke="#383838" stroke-width="1.7"/>
<rect x="151.00" y="171.40" width="121.50" height="124.90" fill="none" stroke="#383838" stroke-width="1.7"/>
<rect x="279.70" y="47.00" width="121.50" height="124.60" fill="none" stroke="#383838" stroke-width="1.7"/>
<rect x="401.20" y="47.00" width="121.60" height="124.60" fill="none" stroke="#383838" stroke-width="1.7"/>
<rect x="279.70" y="171.60" width="121.50" height="124.70" fill="none" stroke="#383838" stroke-width="1.7"/>
<rect x="401.20" y="171.60" width="121.60" height="124.70" fill="none" stroke="#383838" stroke-width="1.7"/>
<rect x="530.50" y="46.40" width="121.50" height="125.60" fill="none" stroke="#383838" stroke-width="1.7"/>
<rect x="530.50" y="172.00" width="121.50" height="124.30" fill="none" stroke="#383838" stroke-width="1.7"/>
<rect x="652.00" y="172.00" width="121.80" height="124.30" fill="none" stroke="#383838" stroke-width="1.7"/>
<rect x="30.00" y="349.60" width="122.00" height="123.40" fill="none" stroke="#383838" stroke-width="1.7"/>
<rect x="30.00" y="473.00" width="122.00" height="123.40" fill="none" stroke="#383838" stroke-width="1.7"/>
<rect x="152.00" y="473.00" width="122.50" height="123.40" fill="none" stroke="#383838" stroke-width="1.7"/>
<rect x="283.00" y="345.60" width="121.80" height="124.40" fill="none" stroke="#383838" stroke-width="1.7"/>
<rect x="283.00" y="470.00" width="121.80" height="124.50" fill="none" stroke="#383838" stroke-width="1.7"/>
<rect x="404.80" y="470.00" width="121.50" height="124.50" fill="none" stroke="#383838" stroke-width="1.7"/></g>
<g><text x="0" y="63.30" class="num" transform="translate(34.30 0) scale(0.78 1)">1</text>
<text x="0" y="62.90" class="num" transform="translate(156.10 0) scale(0.78 1)">2</text>
<text x="0" y="189.20" class="num" transform="translate(35.10 0) scale(0.78 1)">3</text>
<text x="0" y="189.00" class="num" transform="translate(156.90 0) scale(0.78 1)">4</text>
<text x="0" y="63.90" class="num" transform="translate(284.30 0) scale(0.78 1)">1</text>
<text x="0" y="63.30" class="num" transform="translate(405.10 0) scale(0.78 1)">2</text>
<text x="0" y="187.80" class="num" transform="translate(284.50 0) scale(0.78 1)">3</text>
<text x="0" y="188.70" class="num" transform="translate(406.30 0) scale(0.78 1)">4</text>
<text x="0" y="63.30" class="num" transform="translate(534.30 0) scale(0.78 1)">1</text>
<text x="0" y="188.30" class="num" transform="translate(533.70 0) scale(0.78 1)">2</text>
<text x="0" y="188.40" class="num" transform="translate(656.10 0) scale(0.78 1)">3</text>
<text x="0" y="365.30" class="num" transform="translate(33.10 0) scale(0.78 1)">1</text>
<text x="0" y="489.40" class="num" transform="translate(33.70 0) scale(0.78 1)">2</text>
<text x="0" y="489.90" class="num" transform="translate(155.70 0) scale(0.78 1)">3</text>
<text x="0" y="360.90" class="num" transform="translate(286.50 0) scale(0.78 1)">1</text>
<text x="0" y="487.70" class="num" transform="translate(287.50 0) scale(0.78 1)">2</text>
<text x="0" y="486.80" class="num" transform="translate(409.50 0) scale(0.78 1)">3</text></g>

<text class="ttl" x="29.2" y="41.5" textLength="121.4" lengthAdjust="spacingAndGlyphs">HOOK ARMS</text>
<text class="sub" x="156.6" y="43.1" textLength="72.6" lengthAdjust="spacingAndGlyphs">(LARGE &amp; SMALL)</text>
<text class="ttl" x="279.1" y="39.5" textLength="190.2" lengthAdjust="spacingAndGlyphs">2-SCREW BAYONET</text>
<text class="ttl" x="530.8" y="40.1" textLength="99" lengthAdjust="spacingAndGlyphs">3/16" PINS</text>
<text class="ttl" x="29.0" y="342.5" textLength="89.6" lengthAdjust="spacingAndGlyphs">1/4" PINS</text>
<text class="ttl" x="282.6" y="340.9" textLength="94" lengthAdjust="spacingAndGlyphs">BAYONET</text>

</svg>
<div class="foot"></div>
</body></html>
